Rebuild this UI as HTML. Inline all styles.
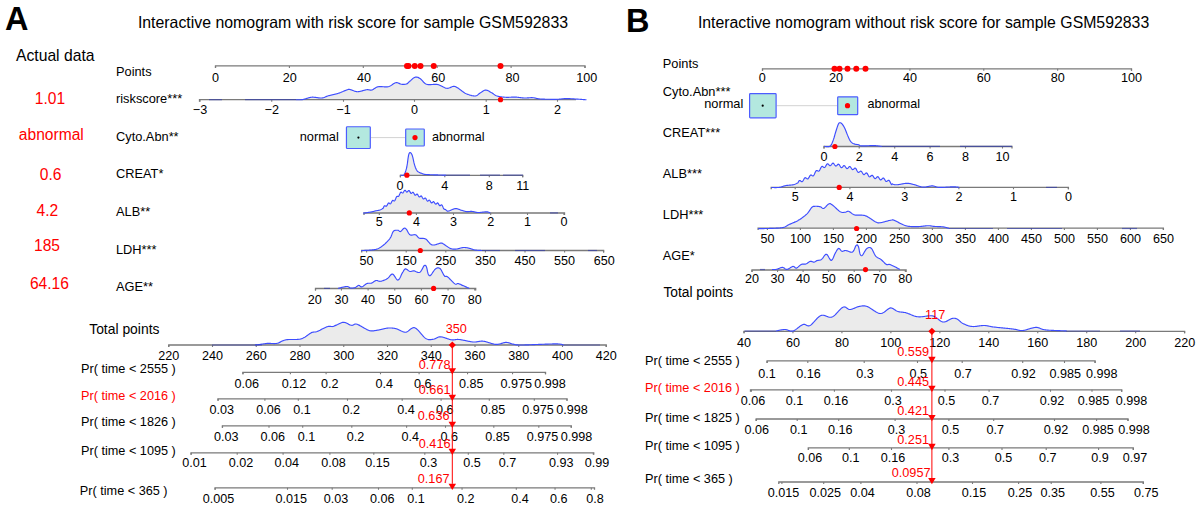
<!DOCTYPE html>
<html><head><meta charset="utf-8"><style>
html,body{margin:0;padding:0;background:#fff;}
svg{display:block;}
text{font-family:"Liberation Sans",sans-serif;}
</style></head><body>
<svg width="1200" height="509" viewBox="0 0 1200 509">
<rect width="1200" height="509" fill="#fff"/>
<path d="M296.00 99.70L296.28 99.70L296.62 99.70L297.01 99.71L297.44 99.72L297.91 99.73L298.42 99.74L298.96 99.74L299.51 99.74L300.09 99.73L300.67 99.72L301.26 99.69L301.85 99.64L302.43 99.58L303.00 99.50L303.47 99.41L303.94 99.31L304.42 99.18L304.90 99.04L305.39 98.88L305.89 98.72L306.40 98.55L306.91 98.37L307.42 98.20L307.94 98.03L308.46 97.87L308.99 97.71L309.53 97.57L310.07 97.45L310.61 97.34L311.15 97.26L311.70 97.20L312.17 97.17L312.66 97.17L313.16 97.18L313.67 97.21L314.19 97.25L314.71 97.31L315.24 97.37L315.77 97.44L316.30 97.52L316.83 97.59L317.36 97.67L317.88 97.75L318.40 97.82L318.91 97.88L319.41 97.94L319.90 97.98L320.37 98.01L320.83 98.03L321.28 98.02L321.70 98.00L322.31 97.93L322.87 97.83L323.39 97.70L323.87 97.55L324.33 97.39L324.78 97.20L325.22 97.01L325.67 96.80L326.13 96.60L326.61 96.39L327.13 96.19L327.69 95.99L328.30 95.80L328.73 95.68L329.17 95.57L329.63 95.45L330.11 95.33L330.60 95.21L331.10 95.10L331.61 94.98L332.13 94.86L332.66 94.74L333.19 94.62L333.72 94.50L334.25 94.37L334.78 94.25L335.31 94.12L335.83 93.99L336.35 93.86L336.85 93.72L337.35 93.58L337.83 93.44L338.30 93.30L338.88 93.11L339.46 92.91L340.05 92.69L340.63 92.47L341.21 92.23L341.79 92.00L342.36 91.76L342.92 91.53L343.46 91.29L343.99 91.07L344.51 90.85L345.00 90.65L345.46 90.46L345.90 90.28L346.32 90.13L346.70 90.00L347.50 89.72L348.02 89.53L348.41 89.41L348.78 89.36L349.27 89.39L350.00 89.50L350.37 89.58L350.78 89.69L351.20 89.83L351.65 90.00L352.13 90.19L352.62 90.39L353.12 90.59L353.64 90.80L354.18 90.99L354.72 91.18L355.27 91.34L355.82 91.49L356.38 91.60L356.94 91.67L357.50 91.70L357.98 91.69L358.47 91.65L358.98 91.58L359.51 91.49L360.05 91.38L360.60 91.26L361.15 91.12L361.70 90.97L362.26 90.82L362.81 90.66L363.35 90.50L363.88 90.35L364.40 90.21L364.91 90.07L365.39 89.95L365.85 89.84L366.29 89.76L366.70 89.70L367.36 89.65L367.94 89.67L368.46 89.73L368.93 89.83L369.36 89.93L369.79 90.03L370.21 90.10L370.66 90.13L371.15 90.11L371.70 90.00L372.15 89.86L372.59 89.66L373.04 89.42L373.50 89.14L373.97 88.84L374.44 88.53L374.93 88.21L375.44 87.89L375.97 87.59L376.51 87.31L377.08 87.06L377.68 86.86L378.30 86.70L378.73 86.63L379.17 86.58L379.64 86.56L380.12 86.55L380.62 86.56L381.13 86.58L381.65 86.62L382.18 86.65L382.71 86.70L383.24 86.74L383.78 86.79L384.32 86.83L384.85 86.86L385.38 86.89L385.90 86.90L386.41 86.90L386.90 86.89L387.39 86.85L387.85 86.79L388.30 86.70L388.88 86.54L389.44 86.32L389.99 86.07L390.52 85.77L391.04 85.46L391.56 85.12L392.06 84.77L392.55 84.43L393.04 84.09L393.51 83.77L393.98 83.47L394.44 83.21L394.90 82.98L395.35 82.81L395.80 82.70L396.40 82.64L396.98 82.68L397.55 82.79L398.10 82.95L398.64 83.16L399.17 83.39L399.69 83.63L400.20 83.86L400.70 84.06L401.20 84.21L401.70 84.30L402.25 84.35L402.80 84.38L403.34 84.38L403.88 84.37L404.41 84.33L404.92 84.28L405.41 84.21L405.87 84.12L406.31 84.02L406.70 83.90L407.31 83.63L407.72 83.30L408.08 82.90L408.53 82.40L409.20 81.80L409.61 81.46L410.06 81.04L410.57 80.58L411.10 80.08L411.66 79.57L412.23 79.06L412.81 78.58L413.39 78.14L413.95 77.76L414.49 77.45L415.00 77.25L415.52 77.12L416.02 77.06L416.51 77.06L416.98 77.11L417.44 77.23L417.92 77.39L418.40 77.61L418.90 77.87L419.43 78.16L420.00 78.50L420.45 78.81L420.90 79.20L421.35 79.64L421.80 80.13L422.27 80.65L422.74 81.19L423.24 81.74L423.75 82.27L424.28 82.78L424.84 83.25L425.43 83.67L426.05 84.02L426.70 84.30L427.13 84.43L427.58 84.52L428.04 84.59L428.52 84.63L429.02 84.66L429.53 84.66L430.06 84.65L430.59 84.62L431.13 84.59L431.67 84.55L432.22 84.50L432.77 84.46L433.32 84.41L433.87 84.37L434.41 84.34L434.95 84.32L435.48 84.32L436.01 84.33L436.52 84.36L437.02 84.42L437.50 84.50L438.05 84.63L438.61 84.80L439.16 84.99L439.70 85.21L440.24 85.45L440.78 85.71L441.31 85.98L441.84 86.25L442.36 86.53L442.88 86.80L443.38 87.07L443.89 87.32L444.38 87.56L444.86 87.77L445.34 87.95L445.80 88.11L446.26 88.22L446.70 88.30L447.30 88.33L447.88 88.29L448.45 88.18L449.00 88.03L449.54 87.83L450.06 87.62L450.56 87.38L451.05 87.15L451.53 86.93L451.99 86.73L452.44 86.57L452.88 86.45L453.30 86.40L453.91 86.39L454.42 86.42L454.87 86.49L455.29 86.62L455.73 86.82L456.22 87.07L456.80 87.40L457.50 87.80L457.90 88.04L458.34 88.33L458.79 88.65L459.27 89.00L459.76 89.37L460.27 89.76L460.80 90.17L461.34 90.58L461.89 91.00L462.44 91.41L463.00 91.81L463.57 92.20L464.13 92.57L464.69 92.91L465.25 93.22L465.80 93.50L466.29 93.73L466.81 93.95L467.33 94.16L467.86 94.37L468.41 94.58L468.96 94.77L469.51 94.95L470.06 95.13L470.61 95.29L471.15 95.43L471.69 95.57L472.21 95.69L472.72 95.79L473.22 95.87L473.70 95.93L474.16 95.98L474.59 96.00L475.00 96.00L475.67 95.93L476.26 95.77L476.79 95.53L477.27 95.23L477.72 94.89L478.15 94.53L478.58 94.15L479.02 93.77L479.49 93.42L480.00 93.10L480.49 92.81L480.99 92.48L481.50 92.13L482.01 91.78L482.53 91.42L483.05 91.08L483.58 90.78L484.10 90.51L484.64 90.30L485.17 90.16L485.70 90.10L486.19 90.12L486.69 90.21L487.19 90.36L487.70 90.56L488.21 90.80L488.72 91.06L489.23 91.35L489.73 91.65L490.24 91.96L490.73 92.26L491.22 92.54L491.70 92.80L492.25 93.11L492.77 93.44L493.26 93.78L493.74 94.14L494.23 94.49L494.73 94.83L495.26 95.16L495.82 95.47L496.43 95.75L497.10 96.00L497.52 96.13L497.97 96.25L498.42 96.36L498.90 96.47L499.39 96.57L499.89 96.66L500.40 96.75L500.92 96.82L501.45 96.90L501.98 96.97L502.52 97.03L503.07 97.09L503.61 97.14L504.16 97.18L504.71 97.23L505.26 97.27L505.80 97.30L506.29 97.32L506.78 97.34L507.29 97.34L507.79 97.34L508.31 97.33L508.82 97.31L509.34 97.29L509.86 97.27L510.39 97.24L510.91 97.21L511.44 97.18L511.96 97.16L512.48 97.13L512.99 97.11L513.51 97.10L514.01 97.09L514.52 97.08L515.01 97.09L515.50 97.10L516.04 97.13L516.57 97.16L517.10 97.21L517.62 97.26L518.14 97.32L518.65 97.38L519.16 97.45L519.67 97.52L520.17 97.59L520.67 97.66L521.18 97.73L521.68 97.79L522.18 97.85L522.68 97.90L523.19 97.94L523.69 97.98L524.20 98.00L524.71 98.01L525.22 98.01L525.74 98.00L526.25 97.98L526.77 97.95L527.28 97.92L527.80 97.88L528.31 97.84L528.82 97.81L529.34 97.77L529.84 97.74L530.35 97.71L530.85 97.69L531.34 97.67L531.83 97.67L532.32 97.68L532.80 97.70L533.32 97.74L533.80 97.80L534.24 97.87L534.67 97.96L535.09 98.05L535.49 98.15L535.91 98.26L536.33 98.37L536.78 98.48L537.26 98.58L537.78 98.68L538.34 98.78L538.96 98.86L539.64 98.94L540.40 99.00L540.79 99.02L541.19 99.05L541.62 99.07L542.07 99.09L542.54 99.11L543.03 99.13L543.53 99.15L544.04 99.17L544.57 99.19L545.11 99.20L545.66 99.22L546.21 99.23L546.78 99.24L547.34 99.25L547.91 99.27L548.49 99.27L549.06 99.28L549.63 99.29L550.20 99.30L550.77 99.30L551.33 99.31L551.88 99.31L552.43 99.32L552.96 99.32L553.49 99.32L554.00 99.32L554.49 99.32L554.97 99.32L555.43 99.31L555.88 99.31L556.30 99.31L556.70 99.30L557.41 99.28L558.06 99.26L558.68 99.22L559.25 99.18L559.79 99.14L560.30 99.09L560.78 99.03L561.25 98.98L561.70 98.92L562.14 98.87L562.57 98.81L563.00 98.76L563.43 98.72L563.88 98.68L564.33 98.64L564.80 98.62L565.30 98.60L565.80 98.59L566.30 98.59L566.78 98.59L567.26 98.59L567.74 98.60L568.21 98.61L568.69 98.62L569.16 98.64L569.65 98.66L570.14 98.68L570.64 98.71L571.16 98.74L571.69 98.77L572.24 98.80L572.80 98.83L573.39 98.87L574.00 98.90L574.44 98.93L574.91 98.95L575.40 98.99L575.92 99.02L576.46 99.06L577.01 99.09L577.58 99.13L578.15 99.17L578.74 99.22L579.33 99.26L579.92 99.30L580.50 99.35L581.08 99.39L581.66 99.43L582.22 99.48L582.76 99.52L583.29 99.56L583.80 99.60L584.28 99.63L584.74 99.67L585.16 99.70L585.56 99.73L585.91 99.76L586.23 99.78L586.50 99.80L586.50 99.70L296.00 99.70Z" fill="#ebebeb"/>
<path d="M400.50 175.10L400.83 175.12L401.29 175.20L401.84 175.29L402.43 175.34L403.03 175.27L403.60 175.05L404.10 174.60L404.71 173.60L405.29 172.25L405.84 170.65L406.34 168.88L406.80 167.00L407.44 163.17L407.98 158.93L408.50 155.60L409.02 153.72L409.53 152.77L410.10 152.50L410.61 152.71L411.17 153.31L411.74 154.29L412.30 155.60L412.82 157.43L413.32 159.74L413.84 162.15L414.40 164.30L414.87 165.80L415.33 167.24L415.83 168.58L416.41 169.78L417.10 170.80L417.55 171.28L418.05 171.69L418.59 172.04L419.16 172.35L419.74 172.63L420.33 172.87L420.91 173.09L421.47 173.30L422.00 173.50L422.50 173.71L422.90 173.88L423.24 174.02L423.60 174.14L424.03 174.24L424.58 174.32L425.32 174.41L426.30 174.50L426.65 174.53L427.04 174.55L427.45 174.58L427.90 174.60L428.37 174.63L428.86 174.65L429.37 174.68L429.91 174.70L430.46 174.72L431.02 174.74L431.59 174.76L432.17 174.78L432.75 174.80L433.34 174.82L433.92 174.83L434.51 174.85L435.09 174.87L435.66 174.88L436.22 174.90L436.76 174.91L437.29 174.93L437.80 174.94L438.30 174.95L438.76 174.96L439.21 174.98L439.62 174.99L440.00 175.00L440.79 175.02L441.52 175.04L442.18 175.06L442.79 175.07L443.35 175.08L443.86 175.08L444.32 175.09L444.73 175.09L445.10 175.09L445.44 175.09L445.73 175.10L446.00 175.10L446.00 175.10L400.50 175.10Z" fill="#ebebeb"/>
<path d="M363.20 213.20L363.50 213.15L363.87 213.10L364.31 213.04L364.79 212.97L365.33 212.89L365.89 212.81L366.48 212.72L367.09 212.63L367.71 212.54L368.32 212.44L368.92 212.35L369.49 212.26L370.04 212.17L370.55 212.08L371.00 212.00L371.61 211.88L372.18 211.76L372.71 211.64L373.20 211.52L373.68 211.41L374.13 211.29L374.59 211.17L375.04 211.05L375.51 210.92L376.00 210.80L376.50 210.69L377.00 210.59L377.50 210.50L378.00 210.42L378.50 210.32L379.00 210.22L379.50 210.09L380.00 209.93L380.50 209.74L381.00 209.50L381.50 209.20L382.00 208.86L382.50 208.47L383.00 208.56L383.50 207.38L384.00 206.32L384.50 205.73L385.00 205.70L385.50 206.02L386.00 206.30L386.50 206.15L387.02 205.45L387.53 204.40L388.05 203.43L388.56 202.95L389.07 203.04L389.57 203.48L390.06 203.84L390.54 203.80L391.00 203.25L391.55 202.12L392.09 201.02L392.62 200.40L393.12 200.37L393.62 200.69L394.09 200.97L394.55 200.89L395.00 200.34L395.56 199.08L396.07 197.75L396.56 196.76L397.04 196.30L397.51 196.28L398.00 196.44L398.49 196.39L398.96 195.85L399.44 194.85L399.93 193.63L400.44 192.55L401.00 192.06L401.45 192.20L401.93 192.61L402.43 192.96L402.94 192.88L403.46 192.24L403.98 191.28L404.49 190.48L405.00 190.22L405.50 190.55L406.00 191.24L406.50 191.89L407.00 192.12L407.50 191.82L408.00 191.19L408.50 190.63L409.00 190.50L409.50 190.96L410.00 191.85L410.50 192.76L411.00 193.31L411.50 193.31L412.00 192.90L412.50 192.43L413.00 192.31L413.50 192.72L414.00 193.58L414.50 194.52L415.00 195.13L415.50 195.20L416.00 194.80L416.50 194.27L417.00 194.04L417.49 194.33L417.98 195.09L418.46 196.02L418.94 196.75L419.43 197.02L419.93 196.77L420.45 196.24L421.00 195.89L421.46 196.06L421.94 196.73L422.43 197.69L422.93 198.57L423.44 198.99L423.95 198.84L424.47 198.35L424.98 197.96L425.50 198.06L426.00 198.72L426.49 199.69L426.97 200.57L427.44 201.06L427.90 201.06L428.38 200.68L428.86 200.24L429.35 200.09L429.87 200.50L430.42 201.44L431.00 202.49L431.44 202.96L431.92 202.95L432.41 202.50L432.92 201.90L433.45 201.61L433.99 201.94L434.52 202.79L435.06 203.70L435.60 204.20L436.12 204.09L436.62 203.56L437.11 203.03L437.57 202.85L438.00 203.12L438.62 204.13L439.18 205.17L439.71 205.73L440.21 205.71L440.69 205.32L441.16 204.92L441.62 204.82L442.10 205.25L442.60 206.20L443.09 207.39L443.55 208.43L444.00 209.10L444.45 209.37L444.91 209.35L445.40 209.48L445.94 209.92L446.53 210.62L447.20 211.10L447.62 211.13L448.07 211.10L448.55 211.01L449.06 210.88L449.59 210.71L450.13 210.51L450.68 210.28L451.24 210.04L451.81 209.80L452.36 209.56L452.92 209.32L453.46 209.11L453.98 208.92L454.48 208.77L454.96 208.66L455.40 208.60L456.00 208.59L456.56 208.63L457.09 208.72L457.60 208.85L458.08 209.01L458.55 209.19L459.01 209.39L459.47 209.58L459.94 209.77L460.41 209.95L460.90 210.10L461.40 210.24L461.90 210.40L462.40 210.56L462.90 210.72L463.40 210.88L463.90 211.03L464.40 211.18L464.90 211.31L465.40 211.43L465.90 211.53L466.40 211.60L466.90 211.64L467.39 211.65L467.88 211.63L468.36 211.60L468.85 211.55L469.34 211.50L469.83 211.45L470.34 211.41L470.85 211.38L471.37 211.38L471.90 211.40L472.40 211.45L472.89 211.53L473.39 211.63L473.90 211.74L474.41 211.86L474.93 211.98L475.45 212.10L475.99 212.22L476.55 212.32L477.11 212.41L477.70 212.47L478.30 212.50L478.77 212.50L479.28 212.49L479.80 212.45L480.35 212.41L480.91 212.35L481.48 212.29L482.05 212.22L482.62 212.15L483.18 212.08L483.74 212.01L484.28 211.95L484.80 211.89L485.30 211.85L485.77 211.81L486.20 211.80L486.60 211.80L487.40 211.87L488.10 212.02L488.70 212.20L489.21 212.41L489.65 212.61L490.01 212.78L490.30 212.90L490.30 212.90L363.20 212.90Z" fill="#ebebeb"/>
<path d="M361.40 250.60L361.68 250.58L362.00 250.56L362.36 250.54L362.76 250.52L363.20 250.50L363.66 250.48L364.16 250.46L364.68 250.43L365.22 250.41L365.78 250.38L366.35 250.35L366.94 250.32L367.54 250.29L368.15 250.26L368.76 250.22L369.36 250.18L369.97 250.14L370.57 250.09L371.16 250.04L371.74 249.99L372.31 249.93L372.85 249.87L373.38 249.81L373.88 249.74L374.35 249.66L374.79 249.58L375.20 249.50L375.92 249.33L376.58 249.15L377.19 248.96L377.76 248.76L378.28 248.55L378.78 248.33L379.25 248.09L379.71 247.84L380.15 247.57L380.60 247.28L381.05 246.97L381.51 246.64L381.99 246.28L382.50 245.90L383.03 245.49L383.59 245.04L384.15 244.56L384.72 244.06L385.29 243.53L385.86 242.99L386.43 242.43L386.99 241.86L387.53 241.29L388.06 240.72L388.56 240.15L389.04 239.59L389.49 239.03L389.90 238.50L390.60 237.40L391.18 236.22L391.66 235.03L392.09 233.88L392.51 232.82L392.97 231.91L393.50 231.20L393.98 230.81L394.50 230.53L395.04 230.34L395.60 230.24L396.16 230.20L396.70 230.20L397.21 230.23L397.68 230.27L398.10 230.30L398.80 230.58L399.31 231.11L399.78 231.55L400.40 231.60L400.87 231.32L401.40 230.84L401.96 230.24L402.54 229.59L403.10 228.98L403.63 228.49L404.10 228.20L404.74 228.06L405.26 228.19L405.77 228.61L406.40 229.30L406.83 229.90L407.28 230.71L407.75 231.64L408.25 232.60L408.79 233.50L409.37 234.26L410.00 234.80L410.44 234.99L410.92 235.09L411.44 235.11L411.97 235.07L412.52 234.99L413.08 234.89L413.63 234.79L414.16 234.71L414.68 234.67L415.16 234.70L415.60 234.80L416.19 235.12L416.69 235.57L417.14 236.11L417.57 236.68L418.03 237.24L418.56 237.73L419.20 238.10L419.63 238.24L420.10 238.33L420.60 238.38L421.12 238.39L421.66 238.39L422.22 238.39L422.78 238.39L423.36 238.42L423.93 238.48L424.50 238.59L425.05 238.76L425.60 239.00L426.09 239.31L426.57 239.71L427.05 240.18L427.52 240.70L427.99 241.26L428.47 241.83L428.95 242.41L429.44 242.96L429.93 243.49L430.45 243.96L430.98 244.37L431.53 244.68L432.10 244.90L432.56 244.99L433.06 245.03L433.59 245.01L434.13 244.95L434.69 244.86L435.27 244.73L435.84 244.58L436.42 244.41L437.00 244.23L437.56 244.05L438.11 243.86L438.64 243.68L439.15 243.51L439.62 243.37L440.06 243.24L440.45 243.15L440.80 243.10L441.71 243.01L442.04 243.05L442.32 243.29L443.10 243.80L443.47 244.02L443.90 244.29L444.37 244.60L444.87 244.94L445.41 245.31L445.97 245.70L446.55 246.10L447.13 246.50L447.72 246.89L448.30 247.26L448.86 247.60L449.41 247.91L449.92 248.18L450.40 248.40L450.96 248.62L451.48 248.80L451.96 248.93L452.43 249.04L452.89 249.11L453.34 249.16L453.80 249.18L454.28 249.18L454.78 249.17L455.32 249.14L455.90 249.10L456.36 249.05L456.85 248.98L457.35 248.89L457.88 248.77L458.42 248.64L458.97 248.50L459.53 248.35L460.09 248.21L460.65 248.06L461.20 247.93L461.75 247.80L462.29 247.69L462.81 247.60L463.32 247.54L463.80 247.50L464.38 247.49L464.95 247.51L465.50 247.56L466.04 247.62L466.56 247.71L467.08 247.81L467.59 247.92L468.09 248.03L468.57 248.15L469.06 248.27L469.53 248.39L470.00 248.50L470.54 248.63L471.04 248.78L471.53 248.94L471.99 249.11L472.45 249.28L472.91 249.45L473.39 249.61L473.89 249.76L474.42 249.89L475.00 250.00L475.45 250.07L475.96 250.13L476.49 250.18L477.06 250.23L477.64 250.27L478.23 250.31L478.81 250.34L479.38 250.37L479.93 250.40L480.45 250.42L480.93 250.44L481.35 250.46L481.71 250.48L482.00 250.50L482.00 250.50L361.40 250.50Z" fill="#ebebeb"/>
<path d="M338.00 288.40L338.30 288.33L338.66 288.24L339.09 288.13L339.57 288.01L340.10 287.88L340.66 287.73L341.25 287.58L341.86 287.43L342.48 287.28L343.10 287.13L343.72 287.00L344.32 286.87L344.89 286.75L345.44 286.66L345.94 286.58L346.40 286.53L346.80 286.50L347.59 286.55L348.21 286.74L348.70 287.00L349.13 287.31L349.53 287.61L349.97 287.86L350.50 288.00L350.97 288.05L351.46 288.07L351.97 288.07L352.48 288.05L353.00 288.01L353.52 287.94L354.03 287.85L354.53 287.73L355.00 287.60L355.59 287.35L356.16 286.99L356.72 286.59L357.26 286.18L357.79 285.81L358.31 285.54L358.80 285.40L359.32 285.49L359.78 285.81L360.21 286.22L360.67 286.63L361.18 286.89L361.80 286.90L362.23 286.74L362.71 286.49L363.22 286.15L363.76 285.75L364.31 285.32L364.86 284.88L365.42 284.45L365.97 284.07L366.50 283.74L367.00 283.50L367.53 283.34L368.05 283.25L368.55 283.23L369.05 283.24L369.54 283.26L370.03 283.29L370.51 283.28L371.00 283.22L371.50 283.10L372.00 282.89L372.50 282.60L373.00 282.27L373.50 281.91L374.00 281.54L374.50 281.20L375.00 280.89L375.50 280.65L376.00 280.50L376.49 280.46L376.96 280.52L377.41 280.64L377.87 280.81L378.34 281.00L378.83 281.17L379.35 281.29L379.90 281.35L380.50 281.30L380.95 281.21L381.44 281.10L381.94 280.95L382.48 280.79L383.02 280.60L383.58 280.39L384.14 280.17L384.70 279.93L385.25 279.68L385.79 279.42L386.32 279.15L386.82 278.88L387.30 278.60L387.88 278.18L388.44 277.65L388.97 277.05L389.48 276.43L389.98 275.81L390.48 275.23L390.97 274.73L391.47 274.36L391.98 274.13L392.50 274.10L392.99 274.30L393.50 274.73L394.01 275.34L394.52 276.08L395.04 276.88L395.55 277.69L396.06 278.47L396.56 279.15L397.06 279.69L397.54 280.02L398.00 280.10L398.55 279.84L399.10 279.27L399.63 278.46L400.15 277.48L400.66 276.41L401.15 275.32L401.62 274.27L402.07 273.34L402.50 272.60L403.07 271.69L403.56 270.85L404.00 270.12L404.44 269.53L404.93 269.11L405.50 268.90L405.94 268.93L406.41 269.12L406.91 269.42L407.44 269.80L407.97 270.23L408.50 270.64L409.02 271.02L409.52 271.32L410.00 271.50L410.56 271.55L411.07 271.48L411.56 271.32L412.05 271.12L412.57 270.94L413.15 270.81L413.80 270.80L414.23 270.87L414.69 271.02L415.18 271.21L415.69 271.44L416.22 271.69L416.76 271.93L417.29 272.15L417.83 272.33L418.35 272.46L418.86 272.50L419.35 272.46L419.80 272.30L420.38 271.86L420.94 271.19L421.50 270.34L422.03 269.39L422.54 268.41L423.03 267.46L423.48 266.61L423.91 265.94L424.30 265.50L425.03 265.18L425.59 265.42L426.05 266.09L426.50 267.00L427.02 268.93L427.47 271.40L428.00 273.40L428.45 274.45L428.92 275.32L429.50 275.77L430.30 275.60L430.71 275.26L431.17 274.73L431.67 274.05L432.20 273.26L432.76 272.41L433.33 271.55L433.90 270.73L434.46 269.98L435.00 269.35L435.50 268.90L436.03 268.54L436.55 268.24L437.05 268.01L437.55 267.86L438.04 267.79L438.53 267.81L439.01 267.94L439.50 268.16L440.00 268.50L440.51 269.02L441.03 269.76L441.56 270.66L442.08 271.66L442.60 272.69L443.11 273.70L443.60 274.63L444.07 275.42L444.50 276.00L445.03 276.45L445.44 276.53L445.81 276.43L446.22 276.31L446.76 276.38L447.50 276.80L447.88 277.11L448.31 277.49L448.78 277.94L449.29 278.44L449.83 278.98L450.39 279.55L450.96 280.13L451.54 280.72L452.11 281.30L452.67 281.86L453.21 282.38L453.72 282.86L454.19 283.28L454.62 283.63L455.00 283.90L455.74 284.24L456.28 284.24L456.69 284.02L457.06 283.74L457.47 283.52L458.00 283.50L458.42 283.60L458.86 283.75L459.30 283.92L459.77 284.13L460.26 284.35L460.77 284.60L461.32 284.86L461.89 285.13L462.50 285.40L462.97 285.60L463.49 285.83L464.05 286.08L464.65 286.34L465.26 286.61L465.87 286.88L466.48 287.15L467.08 287.41L467.63 287.66L468.15 287.89L468.61 288.09L468.99 288.26L469.30 288.40L469.30 288.40L338.00 288.40Z" fill="#ebebeb"/>
<path d="M255.00 345.00L255.30 344.97L255.67 344.92L256.11 344.88L256.60 344.82L257.14 344.76L257.72 344.70L258.32 344.63L258.94 344.56L259.57 344.48L260.20 344.40L260.65 344.34L261.12 344.27L261.59 344.19L262.08 344.11L262.57 344.03L263.08 343.95L263.60 343.86L264.13 343.78L264.67 343.70L265.21 343.62L265.77 343.56L266.34 343.49L266.92 343.44L267.50 343.40L267.97 343.38L268.45 343.37L268.96 343.37L269.47 343.38L270.00 343.40L270.53 343.43L271.07 343.45L271.61 343.48L272.16 343.51L272.70 343.53L273.24 343.55L273.77 343.56L274.29 343.57L274.81 343.56L275.31 343.54L275.79 343.51L276.26 343.47L276.70 343.40L277.34 343.26L277.95 343.09L278.54 342.88L279.11 342.64L279.66 342.39L280.19 342.12L280.70 341.85L281.20 341.58L281.69 341.33L282.17 341.09L282.64 340.88L283.10 340.70L283.66 340.50L284.12 340.33L284.53 340.19L284.92 340.06L285.32 339.95L285.76 339.85L286.28 339.76L286.92 339.68L287.70 339.60L288.07 339.57L288.48 339.55L288.92 339.53L289.38 339.52L289.88 339.51L290.39 339.50L290.92 339.50L291.46 339.50L292.01 339.49L292.58 339.49L293.14 339.49L293.71 339.49L294.28 339.49L294.84 339.49L295.39 339.48L295.92 339.47L296.45 339.45L296.95 339.44L297.43 339.41L297.88 339.38L298.31 339.34L298.70 339.30L299.40 339.20L300.01 339.11L300.55 339.00L301.03 338.89L301.46 338.76L301.88 338.61L302.29 338.45L302.71 338.26L303.16 338.04L303.65 337.79L304.20 337.50L304.67 337.24L305.17 336.93L305.69 336.59L306.23 336.22L306.78 335.82L307.34 335.42L307.90 335.01L308.46 334.60L309.02 334.20L309.57 333.81L310.11 333.45L310.63 333.13L311.13 332.84L311.60 332.60L312.15 332.37L312.65 332.22L313.11 332.13L313.55 332.08L313.97 332.05L314.40 332.04L314.84 332.01L315.32 331.96L315.85 331.87L316.43 331.72L317.10 331.50L317.51 331.34L317.94 331.15L318.41 330.94L318.90 330.70L319.41 330.45L319.94 330.19L320.48 329.91L321.03 329.63L321.59 329.34L322.15 329.04L322.71 328.75L323.27 328.47L323.82 328.19L324.36 327.92L324.89 327.66L325.40 327.42L325.89 327.21L326.36 327.01L326.79 326.84L327.20 326.70L327.88 326.51L328.51 326.40L329.08 326.35L329.62 326.34L330.12 326.37L330.59 326.41L331.03 326.47L331.46 326.52L331.88 326.55L332.29 326.55L332.70 326.50L333.28 326.38L333.76 326.23L334.18 326.06L334.59 325.86L335.05 325.64L335.60 325.38L336.30 325.10L336.71 324.93L337.16 324.72L337.63 324.49L338.13 324.23L338.65 323.97L339.19 323.69L339.74 323.43L340.31 323.17L340.88 322.93L341.45 322.72L342.03 322.54L342.59 322.41L343.15 322.32L343.70 322.30L344.21 322.34L344.73 322.44L345.26 322.59L345.79 322.79L346.33 323.02L346.86 323.28L347.40 323.55L347.94 323.84L348.46 324.12L348.99 324.39L349.50 324.64L350.00 324.87L350.48 325.06L350.95 325.21L351.40 325.30L351.96 325.33L352.45 325.25L352.88 325.10L353.29 324.89L353.68 324.67L354.08 324.44L354.51 324.24L354.99 324.08L355.53 324.01L356.16 324.04L356.90 324.20L357.28 324.32L357.69 324.48L358.12 324.67L358.58 324.88L359.06 325.12L359.55 325.38L360.07 325.66L360.59 325.96L361.13 326.26L361.68 326.58L362.23 326.90L362.79 327.23L363.35 327.56L363.90 327.89L364.46 328.21L365.01 328.52L365.55 328.83L366.08 329.11L366.60 329.39L367.10 329.64L367.58 329.87L368.04 330.08L368.48 330.25L368.90 330.40L369.56 330.60L370.17 330.74L370.72 330.85L371.25 330.91L371.74 330.94L372.21 330.94L372.67 330.92L373.12 330.87L373.58 330.81L374.05 330.73L374.54 330.65L375.05 330.56L375.60 330.48L376.20 330.40L376.65 330.34L377.12 330.27L377.62 330.18L378.13 330.09L378.66 329.98L379.20 329.87L379.75 329.75L380.30 329.62L380.86 329.50L381.42 329.37L381.97 329.24L382.52 329.11L383.06 328.99L383.59 328.86L384.10 328.75L384.59 328.64L385.06 328.54L385.50 328.45L385.92 328.37L386.30 328.30L387.05 328.18L387.67 328.09L388.21 328.03L388.67 327.98L389.10 327.96L389.50 327.95L389.92 327.96L390.38 327.98L390.90 328.00L391.35 328.02L391.80 328.04L392.24 328.07L392.68 328.10L393.13 328.14L393.60 328.20L394.09 328.27L394.61 328.36L395.16 328.48L395.76 328.63L396.40 328.80L396.82 328.94L397.26 329.11L397.72 329.31L398.20 329.53L398.69 329.77L399.20 330.03L399.71 330.29L400.24 330.56L400.77 330.82L401.31 331.08L401.86 331.32L402.40 331.55L402.95 331.75L403.49 331.92L404.03 332.05L404.56 332.15L405.09 332.20L405.60 332.20L406.11 332.13L406.61 331.97L407.10 331.74L407.59 331.46L408.08 331.12L408.57 330.76L409.06 330.36L409.55 329.96L410.04 329.55L410.53 329.15L411.03 328.78L411.53 328.44L412.04 328.15L412.55 327.92L413.07 327.76L413.61 327.67L414.15 327.68L414.70 327.80L415.16 327.98L415.64 328.24L416.13 328.56L416.63 328.95L417.14 329.38L417.66 329.87L418.18 330.40L418.71 330.96L419.24 331.54L419.77 332.15L420.31 332.77L420.84 333.39L421.36 334.01L421.89 334.63L422.40 335.23L422.91 335.80L423.41 336.35L423.89 336.86L424.37 337.33L424.83 337.74L425.27 338.10L425.70 338.40L426.34 338.77L426.95 339.07L427.53 339.30L428.08 339.46L428.61 339.58L429.13 339.64L429.63 339.67L430.12 339.66L430.61 339.63L431.10 339.57L431.59 339.51L432.08 339.43L432.58 339.36L433.10 339.30L433.62 339.21L434.12 339.07L434.60 338.89L435.09 338.67L435.56 338.43L436.04 338.18L436.53 337.92L437.02 337.67L437.52 337.43L438.05 337.21L438.59 337.03L439.16 336.90L439.76 336.82L440.40 336.80L440.83 336.83L441.27 336.88L441.74 336.96L442.22 337.06L442.71 337.17L443.22 337.31L443.74 337.46L444.26 337.62L444.79 337.80L445.33 337.98L445.87 338.16L446.41 338.35L446.95 338.54L447.48 338.72L448.01 338.90L448.53 339.07L449.04 339.23L449.54 339.38L450.03 339.51L450.51 339.63L450.96 339.73L451.40 339.80L452.00 339.87L452.55 339.90L453.06 339.91L453.55 339.88L454.00 339.84L454.45 339.78L454.89 339.72L455.33 339.65L455.78 339.58L456.25 339.51L456.75 339.47L457.29 339.43L457.87 339.43L458.50 339.45L459.20 339.50L459.60 339.54L460.02 339.60L460.46 339.67L460.92 339.74L461.39 339.82L461.88 339.91L462.38 340.01L462.89 340.11L463.41 340.21L463.94 340.32L464.48 340.43L465.02 340.55L465.57 340.66L466.12 340.78L466.67 340.90L467.22 341.01L467.77 341.13L468.32 341.24L468.86 341.34L469.39 341.44L469.92 341.54L470.44 341.63L470.95 341.72L471.45 341.79L471.94 341.86L472.41 341.92L472.86 341.96L473.30 342.00L473.92 342.03L474.50 342.04L475.07 342.02L475.61 341.98L476.13 341.92L476.64 341.85L477.13 341.78L477.62 341.69L478.09 341.60L478.57 341.51L479.04 341.42L479.52 341.34L480.00 341.27L480.49 341.21L481.00 341.16L481.52 341.14L482.06 341.13L482.62 341.15L483.20 341.20L483.66 341.26L484.13 341.34L484.62 341.43L485.12 341.54L485.62 341.67L486.13 341.80L486.66 341.95L487.18 342.11L487.71 342.27L488.25 342.44L488.79 342.61L489.33 342.79L489.87 342.96L490.41 343.13L490.95 343.30L491.49 343.47L492.02 343.62L492.54 343.77L493.07 343.90L493.58 344.03L494.08 344.14L494.58 344.23L495.07 344.31L495.54 344.36L496.00 344.40L496.59 344.41L497.18 344.39L497.75 344.34L498.32 344.26L498.88 344.15L499.44 344.03L499.98 343.89L500.52 343.73L501.05 343.58L501.57 343.41L502.08 343.25L502.58 343.09L503.08 342.94L503.57 342.79L504.05 342.67L504.52 342.56L504.99 342.48L505.45 342.42L505.90 342.40L506.49 342.41L507.05 342.46L507.58 342.53L508.09 342.64L508.58 342.77L509.07 342.91L509.54 343.07L510.01 343.23L510.48 343.40L510.95 343.56L511.44 343.72L511.94 343.87L512.46 343.99L513.00 344.10L513.42 344.18L513.78 344.25L514.09 344.33L514.36 344.41L514.62 344.48L514.87 344.56L515.13 344.63L515.41 344.69L515.74 344.76L516.11 344.81L516.56 344.86L517.09 344.91L517.72 344.94L518.46 344.97L519.32 344.99L520.33 345.00L521.50 345.00L521.82 345.00L522.16 344.99L522.51 344.99L522.88 344.98L523.26 344.98L523.66 344.97L524.07 344.96L524.49 344.95L524.92 344.94L525.37 344.92L525.83 344.91L526.30 344.90L526.78 344.88L527.27 344.86L527.78 344.85L528.29 344.83L528.80 344.81L529.33 344.79L529.87 344.77L530.41 344.75L530.96 344.73L531.52 344.71L532.08 344.69L532.64 344.67L533.22 344.64L533.79 344.62L534.37 344.60L534.96 344.57L535.54 344.55L536.13 344.53L536.72 344.50L537.31 344.48L537.91 344.46L538.50 344.43L539.09 344.41L539.69 344.38L540.28 344.36L540.87 344.34L541.46 344.31L542.04 344.29L542.63 344.27L543.21 344.24L543.78 344.22L544.36 344.20L544.92 344.18L545.48 344.16L546.04 344.14L546.59 344.12L547.13 344.10L547.67 344.08L548.20 344.06L548.71 344.04L549.22 344.03L549.73 344.01L550.22 344.00L550.70 343.98L551.17 343.97L551.63 343.96L552.08 343.95L552.51 343.94L552.93 343.93L553.34 343.92L553.74 343.91L554.12 343.91L554.49 343.90L554.84 343.90L555.18 343.90L555.50 343.90L556.68 343.91L557.72 343.94L558.63 343.99L559.43 344.05L560.13 344.12L560.73 344.20L561.24 344.29L561.68 344.38L562.06 344.48L562.38 344.58L562.66 344.67L562.90 344.76L563.12 344.85L563.34 344.93L563.54 345.00L563.76 345.06L564.00 345.10L564.00 345.00L255.00 345.00Z" fill="#ebebeb"/>
<path d="M824.40 146.40L824.71 146.41L825.11 146.45L825.59 146.50L826.13 146.56L826.71 146.62L827.31 146.65L827.92 146.66L828.51 146.64L829.06 146.56L829.57 146.41L830.00 146.20L830.65 145.65L831.19 144.95L831.66 144.10L832.10 143.12L832.53 142.01L833.00 140.80L833.51 139.39L834.03 137.75L834.54 135.99L835.05 134.21L835.54 132.51L836.00 131.00L836.64 128.96L837.24 127.07L837.80 125.45L838.30 124.20L838.83 123.24L839.28 122.89L839.80 122.80L840.28 122.79L840.81 122.90L841.38 123.21L842.00 123.80L842.45 124.37L842.94 125.08L843.45 125.89L843.97 126.80L844.49 127.78L845.00 128.80L845.50 129.93L846.00 131.19L846.50 132.51L847.00 133.85L847.50 135.13L848.00 136.30L848.49 137.38L848.97 138.43L849.45 139.43L849.94 140.36L850.45 141.19L851.00 141.90L851.50 142.41L852.03 142.82L852.58 143.16L853.14 143.45L853.70 143.69L854.26 143.90L854.80 144.10L855.34 144.26L855.88 144.37L856.43 144.44L856.97 144.48L857.50 144.53L858.01 144.60L858.50 144.70L858.93 144.88L859.19 145.11L859.43 145.36L859.80 145.59L860.44 145.78L861.50 145.90L861.84 145.91L862.21 145.92L862.61 145.93L863.05 145.92L863.52 145.92L864.01 145.91L864.52 145.89L865.06 145.88L865.61 145.86L866.17 145.84L866.74 145.81L867.33 145.79L867.91 145.76L868.50 145.74L869.09 145.71L869.68 145.69L870.25 145.67L870.82 145.65L871.38 145.63L871.92 145.61L872.45 145.60L872.95 145.59L873.43 145.59L873.88 145.59L874.30 145.60L874.97 145.62L875.62 145.66L876.26 145.70L876.88 145.76L877.47 145.81L878.04 145.88L878.59 145.95L879.11 146.02L879.59 146.08L880.05 146.15L880.48 146.22L880.86 146.27L881.22 146.32L881.53 146.37L881.80 146.40L881.80 146.40L824.40 146.40Z" fill="#ebebeb"/>
<path d="M771.25 187.50L771.55 187.50L771.92 187.50L772.35 187.51L772.84 187.52L773.36 187.54L773.92 187.55L774.51 187.56L775.12 187.57L775.74 187.57L776.36 187.56L776.97 187.55L777.57 187.53L778.15 187.50L778.69 187.46L779.20 187.40L779.75 187.32L780.27 187.21L780.78 187.09L781.27 186.95L781.75 186.80L782.23 186.64L782.71 186.48L783.19 186.32L783.68 186.16L784.18 186.00L784.70 185.86L785.24 185.72L785.80 185.60L786.28 185.52L786.78 185.44L787.30 185.38L787.83 185.32L788.38 185.27L788.93 185.22L789.49 185.17L790.05 185.12L790.61 185.08L791.16 185.02L791.71 184.96L792.24 184.89L792.76 184.81L793.26 184.72L793.74 184.62L794.20 184.50L794.82 184.30L795.41 184.07L795.96 183.82L796.49 183.55L797.00 183.26L797.50 182.97L797.99 182.67L798.47 181.71L798.97 180.92L799.47 180.48L800.00 180.48L800.49 180.81L800.99 181.27L801.49 181.65L801.99 181.76L802.49 181.48L802.99 180.82L803.49 179.91L803.99 178.95L804.50 178.15L805.00 177.70L805.50 177.65L806.00 177.94L806.50 178.40L807.00 178.83L807.50 179.02L808.00 178.84L808.50 178.27L809.00 177.41L809.50 176.46L810.00 175.63L810.50 175.10L811.00 174.94L811.50 175.13L812.00 175.50L812.50 175.84L813.00 175.94L813.50 175.66L814.00 174.96L814.50 173.94L815.00 172.77L815.50 171.69L816.00 170.90L816.50 170.50L817.00 170.49L817.50 170.74L818.00 171.06L818.50 171.23L819.00 171.05L819.50 170.48L820.00 169.58L820.50 168.52L821.00 167.50L821.50 166.75L822.00 166.38L822.50 166.42L823.00 166.75L823.50 167.19L824.00 167.52L824.50 167.55L825.00 167.20L825.50 166.50L826.00 165.60L826.50 164.72L827.00 164.06L827.50 163.78L828.00 163.91L828.50 164.36L829.00 164.97L829.50 165.50L830.00 165.77L830.50 165.67L831.00 165.21L831.50 164.53L832.00 163.81L832.50 163.29L833.00 163.12L833.50 163.36L834.00 163.95L834.50 164.72L835.00 165.45L835.50 165.95L836.00 166.07L836.50 165.81L837.00 165.30L837.50 164.71L838.00 164.27L838.50 164.15L839.00 164.43L839.50 165.08L840.00 165.93L840.50 166.78L841.00 167.41L841.50 167.67L842.00 167.52L842.50 167.04L843.00 166.41L843.50 165.87L844.00 165.61L844.50 165.72L845.00 166.21L845.50 166.95L846.00 167.73L846.50 168.35L847.00 168.62L847.50 168.51L848.00 168.06L848.50 167.45L849.00 166.87L849.50 166.53L850.00 166.57L850.50 167.00L851.00 167.72L851.50 168.54L852.00 169.23L852.50 169.63L853.00 169.64L853.50 169.32L854.00 168.80L854.50 168.31L855.00 168.07L855.50 168.20L856.00 168.75L856.50 169.63L857.00 170.65L857.50 171.57L858.00 172.22L858.50 172.47L859.00 172.32L859.50 171.91L860.00 171.44L860.50 171.11L861.00 171.10L861.50 171.47L862.00 172.17L862.50 173.04L863.00 173.85L863.50 174.42L864.00 174.61L864.50 174.41L865.00 173.94L865.50 173.39L866.00 172.98L866.49 172.90L866.98 173.21L867.45 173.85L867.93 174.71L868.40 175.59L868.88 176.33L869.36 176.77L869.85 176.82L870.36 176.52L870.88 175.98L871.43 175.46L872.00 175.23L872.45 175.39L872.91 175.87L873.39 176.60L873.88 177.44L874.39 178.17L874.90 178.58L875.42 178.57L875.94 178.18L876.46 177.56L876.99 176.98L877.51 176.66L878.02 176.75L878.53 177.25L879.03 178.01L879.52 178.84L880.00 179.52L880.53 179.93L881.04 179.91L881.55 179.52L882.04 178.94L882.53 178.39L883.02 178.06L883.50 178.07L883.98 178.46L884.47 179.15L884.96 179.99L885.45 180.79L885.96 181.35L886.47 181.53L887.00 181.31L887.47 180.91L887.93 180.49L888.39 180.23L888.84 180.25L889.30 180.61L889.76 181.31L890.23 182.24L890.71 183.25L891.19 184.14L891.69 184.72L892.19 183.73L892.72 183.99L893.26 184.23L893.82 184.43L894.40 184.59L895.00 184.70L895.44 184.75L895.90 184.77L896.38 184.77L896.87 184.76L897.38 184.72L897.91 184.67L898.44 184.60L898.98 184.52L899.53 184.44L900.08 184.34L900.64 184.24L901.19 184.13L901.74 184.03L902.29 183.92L902.83 183.82L903.37 183.72L903.89 183.62L904.40 183.53L904.90 183.46L905.38 183.40L905.84 183.35L906.28 183.31L906.70 183.30L907.34 183.30L907.93 183.32L908.47 183.36L908.98 183.41L909.45 183.48L909.91 183.56L910.35 183.65L910.79 183.75L911.22 183.86L911.67 183.98L912.13 184.10L912.62 184.23L913.14 184.37L913.70 184.50L914.16 184.62L914.63 184.75L915.12 184.90L915.61 185.06L916.12 185.23L916.63 185.40L917.15 185.59L917.68 185.77L918.21 185.95L918.74 186.13L919.28 186.30L919.81 186.46L920.35 186.61L920.89 186.75L921.42 186.87L921.95 186.97L922.48 187.05L923.00 187.10L923.52 187.12L924.05 187.12L924.58 187.09L925.11 187.04L925.65 186.97L926.19 186.88L926.72 186.78L927.26 186.68L927.79 186.57L928.32 186.46L928.85 186.35L929.37 186.24L929.88 186.14L930.39 186.06L930.88 185.99L931.37 185.94L931.84 185.91L932.30 185.90L932.85 185.93L933.36 185.99L933.83 186.08L934.26 186.19L934.68 186.32L935.09 186.46L935.51 186.61L935.93 186.76L936.38 186.91L936.86 187.05L937.38 187.17L937.95 187.27L938.59 187.35L939.30 187.40L939.69 187.41L940.10 187.42L940.54 187.42L941.00 187.41L941.48 187.40L941.98 187.39L942.50 187.37L943.03 187.35L943.57 187.32L944.12 187.29L944.67 187.26L945.24 187.23L945.80 187.19L946.37 187.16L946.94 187.12L947.50 187.08L948.06 187.05L948.61 187.01L949.15 186.98L949.69 186.95L950.21 186.91L950.71 186.89L951.20 186.86L951.66 186.84L952.11 186.82L952.53 186.81L952.93 186.80L953.30 186.80L954.16 186.81L954.95 186.84L955.65 186.89L956.29 186.96L956.86 187.03L957.37 187.10L957.83 187.18L958.24 187.25L958.60 187.31L958.92 187.36L959.20 187.40L959.20 187.40L771.25 187.40Z" fill="#ebebeb"/>
<path d="M758.25 228.70L758.52 228.69L758.82 228.68L759.15 228.67L759.50 228.66L759.88 228.65L760.28 228.64L760.70 228.63L761.15 228.62L761.62 228.61L762.10 228.60L762.61 228.59L763.13 228.58L763.66 228.57L764.21 228.56L764.77 228.55L765.34 228.54L765.93 228.52L766.52 228.51L767.12 228.50L767.72 228.48L768.33 228.47L768.95 228.45L769.56 228.44L770.18 228.42L770.80 228.40L771.42 228.38L772.03 228.36L772.64 228.34L773.25 228.32L773.84 228.30L774.44 228.27L775.02 228.25L775.59 228.22L776.15 228.19L776.70 228.17L777.23 228.14L777.75 228.10L778.25 228.07L778.74 228.04L779.20 228.00L779.65 227.96L780.07 227.93L780.47 227.89L780.85 227.84L781.20 227.80L782.14 227.66L782.95 227.51L783.65 227.34L784.24 227.17L784.75 226.99L785.19 226.79L785.58 226.59L785.93 226.37L786.26 226.15L786.59 225.93L786.92 225.69L787.29 225.45L787.69 225.21L788.16 224.95L788.70 224.70L789.15 224.51L789.61 224.31L790.08 224.11L790.57 223.90L791.06 223.70L791.57 223.48L792.08 223.27L792.60 223.05L793.12 222.83L793.65 222.60L794.18 222.37L794.70 222.13L795.23 221.90L795.75 221.65L796.26 221.40L796.77 221.15L797.27 220.90L797.76 220.64L798.24 220.37L798.70 220.10L799.27 219.75L799.84 219.40L800.41 219.03L800.97 218.65L801.53 218.27L802.08 217.88L802.63 217.48L803.16 217.08L803.69 216.67L804.20 216.26L804.71 215.85L805.20 215.44L805.67 215.02L806.13 214.61L806.58 214.21L807.00 213.80L807.64 213.13L808.24 212.41L808.80 211.66L809.32 210.91L809.81 210.16L810.28 209.44L810.73 208.77L811.16 208.16L811.58 207.63L812.00 207.20L812.63 206.70L813.16 206.43L813.65 206.31L814.14 206.29L814.67 206.31L815.30 206.30L815.74 206.28L816.22 206.28L816.73 206.30L817.25 206.33L817.79 206.37L818.33 206.42L818.86 206.48L819.38 206.56L819.86 206.65L820.30 206.75L820.94 207.03L821.49 207.44L822.00 207.88L822.51 208.25L823.06 208.46L823.70 208.40L824.14 208.18L824.62 207.83L825.14 207.36L825.67 206.83L826.21 206.26L826.75 205.68L827.27 205.14L827.78 204.65L828.26 204.26L828.70 204.00L829.29 203.75L829.74 203.62L830.14 203.63L830.59 203.81L831.18 204.16L832.00 204.70L832.39 204.98L832.82 205.32L833.29 205.72L833.80 206.17L834.34 206.66L834.89 207.17L835.46 207.70L836.04 208.24L836.63 208.78L837.21 209.31L837.78 209.82L838.34 210.30L838.88 210.75L839.39 211.14L839.86 211.48L840.30 211.75L840.94 212.07L841.54 212.28L842.09 212.41L842.61 212.47L843.11 212.47L843.57 212.43L844.02 212.37L844.46 212.30L844.88 212.24L845.30 212.20L845.93 212.08L846.46 211.83L846.94 211.55L847.43 211.32L848.00 211.21L848.70 211.30L849.09 211.45L849.50 211.67L849.91 211.95L850.34 212.27L850.79 212.62L851.26 212.99L851.75 213.37L852.27 213.74L852.82 214.09L853.41 214.41L854.03 214.68L854.70 214.90L855.10 214.99L855.52 215.06L855.96 215.11L856.42 215.15L856.89 215.17L857.37 215.18L857.87 215.17L858.37 215.17L858.89 215.16L859.41 215.14L859.93 215.13L860.46 215.13L861.00 215.13L861.53 215.14L862.07 215.16L862.60 215.20L863.13 215.25L863.66 215.33L864.18 215.42L864.70 215.55L865.20 215.70L865.71 215.88L866.22 216.10L866.75 216.35L867.29 216.62L867.83 216.92L868.37 217.24L868.92 217.57L869.47 217.91L870.01 218.26L870.55 218.62L871.09 218.98L871.61 219.34L872.13 219.69L872.64 220.03L873.13 220.36L873.61 220.68L874.07 220.98L874.51 221.25L874.93 221.50L875.33 221.72L875.70 221.90L876.44 222.24L877.01 222.50L877.45 222.69L877.83 222.81L878.17 222.87L878.55 222.88L878.99 222.85L879.56 222.79L880.30 222.70L880.68 222.65L881.10 222.58L881.55 222.49L882.03 222.39L882.54 222.27L883.07 222.15L883.62 222.01L884.18 221.87L884.75 221.72L885.33 221.56L885.91 221.41L886.48 221.26L887.05 221.10L887.60 220.96L888.14 220.81L888.66 220.68L889.15 220.56L889.62 220.44L890.05 220.35L890.44 220.26L890.80 220.20L891.60 220.04L892.07 219.91L892.36 219.82L892.59 219.81L892.91 219.89L893.43 220.07L894.30 220.40L894.65 220.54L895.02 220.70L895.42 220.88L895.85 221.09L896.30 221.31L896.77 221.55L897.26 221.81L897.76 222.08L898.28 222.35L898.82 222.63L899.36 222.92L899.92 223.21L900.47 223.49L901.04 223.78L901.61 224.06L902.17 224.33L902.74 224.59L903.30 224.84L903.86 225.07L904.41 225.28L904.95 225.48L905.48 225.65L906.00 225.80L906.51 225.93L907.02 226.04L907.53 226.14L908.05 226.23L908.57 226.31L909.08 226.38L909.60 226.44L910.12 226.49L910.63 226.53L911.15 226.56L911.67 226.58L912.18 226.60L912.70 226.62L913.21 226.62L913.72 226.63L914.23 226.63L914.73 226.63L915.24 226.62L915.74 226.62L916.23 226.61L916.73 226.61L917.22 226.60L917.70 226.60L918.23 226.59L918.77 226.57L919.30 226.55L919.84 226.51L920.38 226.47L920.92 226.42L921.46 226.37L922.00 226.31L922.53 226.25L923.06 226.19L923.58 226.13L924.09 226.06L924.60 226.00L925.09 225.94L925.58 225.89L926.05 225.84L926.51 225.80L926.96 225.76L927.39 225.73L927.80 225.71L928.20 225.70L928.89 225.70L929.49 225.73L930.03 225.78L930.51 225.85L930.96 225.92L931.39 226.01L931.83 226.09L932.29 226.18L932.80 226.26L933.36 226.34L934.00 226.40L934.43 226.43L934.90 226.46L935.39 226.48L935.90 226.50L936.42 226.52L936.97 226.54L937.52 226.56L938.08 226.58L938.64 226.59L939.21 226.61L939.77 226.63L940.32 226.66L940.87 226.69L941.39 226.72L941.91 226.76L942.40 226.80L942.86 226.85L943.30 226.90L943.99 227.01L944.66 227.15L945.31 227.30L945.94 227.47L946.54 227.64L947.11 227.82L947.63 227.99L948.11 228.15L948.53 228.29L948.90 228.41L949.20 228.50L949.20 228.50L758.25 228.50Z" fill="#ebebeb"/>
<path d="M772.00 269.50L772.29 269.50L772.67 269.50L773.11 269.51L773.61 269.52L774.15 269.52L774.72 269.50L775.31 269.46L775.91 269.40L776.50 269.30L776.95 269.19L777.43 269.04L777.93 268.85L778.44 268.65L778.97 268.43L779.50 268.21L780.03 268.00L780.56 267.81L781.07 267.64L781.57 267.51L782.05 267.43L782.50 267.40L783.06 267.48L783.57 267.68L784.06 267.96L784.52 268.30L784.98 268.64L785.44 268.96L785.93 269.22L786.44 269.38L787.00 269.40L787.46 269.31L787.94 269.13L788.46 268.89L788.99 268.60L789.53 268.27L790.07 267.92L790.61 267.57L791.14 267.24L791.65 266.94L792.13 266.69L792.59 266.50L793.00 266.40L793.70 266.47L794.27 266.82L794.77 267.29L795.25 267.76L795.78 268.07L796.40 268.10L796.88 267.91L797.40 267.58L797.94 267.14L798.50 266.64L799.07 266.11L799.64 265.59L800.21 265.10L800.76 264.70L801.30 264.40L801.82 264.22L802.33 264.13L802.83 264.10L803.33 264.12L803.82 264.15L804.31 264.17L804.81 264.17L805.30 264.12L805.80 264.00L806.30 263.79L806.82 263.51L807.33 263.17L807.84 262.81L808.35 262.45L808.86 262.10L809.35 261.80L809.84 261.56L810.30 261.40L810.88 261.35L811.44 261.42L811.98 261.58L812.51 261.78L813.02 261.96L813.52 262.09L814.00 262.10L814.52 261.97L815.00 261.75L815.45 261.47L815.91 261.16L816.42 260.86L817.00 260.60L817.43 260.48L817.89 260.39L818.37 260.32L818.88 260.26L819.39 260.19L819.91 260.08L820.44 259.93L820.97 259.71L821.50 259.40L822.03 258.94L822.56 258.30L823.10 257.56L823.65 256.76L824.20 255.98L824.75 255.28L825.30 254.71L825.85 254.35L826.40 254.25L826.95 254.51L827.51 255.12L828.07 255.96L828.63 256.95L829.18 257.97L829.73 258.93L830.27 259.72L830.80 260.25L831.30 260.40L831.85 260.11L832.38 259.46L832.90 258.53L833.40 257.43L833.89 256.24L834.37 255.06L834.84 253.98L835.30 253.10L835.89 252.08L836.45 251.06L836.99 250.12L837.52 249.31L838.05 248.72L838.60 248.40L839.16 248.48L839.71 248.92L840.27 249.58L840.84 250.29L841.41 250.90L842.00 251.25L842.49 251.31L842.96 251.23L843.43 251.06L843.91 250.85L844.45 250.66L845.05 250.52L845.75 250.50L846.18 250.56L846.65 250.69L847.16 250.86L847.70 251.07L848.26 251.29L848.84 251.51L849.41 251.73L849.99 251.92L850.55 252.07L851.09 252.17L851.60 252.20L852.07 252.15L852.50 252.00L853.21 251.40L853.83 250.43L854.40 249.25L854.91 248.00L855.38 246.82L855.82 245.85L856.25 245.25L856.94 244.91L857.52 245.13L858.03 245.78L858.50 246.75L859.03 248.92L859.47 251.73L860.00 253.90L860.46 254.87L860.94 255.52L861.51 255.74L862.25 255.40L862.65 254.97L863.10 254.32L863.58 253.51L864.10 252.59L864.63 251.64L865.17 250.70L865.71 249.84L866.24 249.12L866.75 248.60L867.25 248.23L867.75 247.93L868.25 247.70L868.75 247.55L869.25 247.49L869.75 247.52L870.25 247.65L870.75 247.89L871.25 248.25L871.75 248.79L872.24 249.53L872.72 250.42L873.21 251.42L873.70 252.47L874.19 253.51L874.70 254.50L875.22 255.38L875.75 256.10L876.24 256.61L876.75 257.04L877.27 257.40L877.79 257.71L878.33 257.98L878.86 258.25L879.40 258.51L879.93 258.80L880.47 259.12L881.00 259.50L881.54 259.95L882.09 260.46L882.66 261.01L883.23 261.59L883.79 262.16L884.34 262.72L884.88 263.24L885.39 263.71L885.86 264.10L886.30 264.40L886.92 264.66L887.41 264.69L887.85 264.59L888.27 264.44L888.74 264.35L889.30 264.40L889.73 264.52L890.17 264.66L890.63 264.83L891.11 265.02L891.61 265.24L892.13 265.47L892.67 265.72L893.23 265.98L893.80 266.25L894.27 266.48L894.78 266.74L895.34 267.02L895.91 267.32L896.50 267.63L897.08 267.94L897.65 268.24L898.19 268.54L898.69 268.80L899.13 269.04L899.51 269.24L899.80 269.40L899.80 269.50L772.00 269.50Z" fill="#ebebeb"/>
<path d="M776.00 331.00L776.28 330.95L776.61 330.88L776.99 330.80L777.41 330.71L777.88 330.61L778.37 330.50L778.89 330.39L779.44 330.27L780.00 330.16L780.57 330.04L781.16 329.93L781.74 329.83L782.32 329.74L782.89 329.66L783.45 329.59L783.99 329.54L784.51 329.51L785.00 329.50L785.52 329.53L786.03 329.60L786.53 329.71L787.02 329.85L787.51 330.02L787.99 330.19L788.46 330.38L788.94 330.56L789.42 330.74L789.90 330.89L790.39 331.02L790.88 331.12L791.39 331.17L791.91 331.17L792.45 331.12L793.00 331.00L793.46 330.85L793.93 330.64L794.42 330.39L794.92 330.09L795.43 329.76L795.95 329.40L796.47 329.02L797.00 328.62L797.53 328.20L798.06 327.78L798.59 327.36L799.12 326.94L799.64 326.54L800.16 326.15L800.66 325.79L801.16 325.45L801.64 325.15L802.11 324.88L802.57 324.67L803.00 324.50L803.58 324.37L804.12 324.35L804.63 324.42L805.10 324.56L805.56 324.75L806.00 324.98L806.44 325.22L806.88 325.45L807.33 325.65L807.80 325.80L808.29 325.88L808.82 325.87L809.38 325.75L810.00 325.50L810.42 325.26L810.85 324.96L811.30 324.60L811.76 324.20L812.23 323.74L812.71 323.26L813.20 322.73L813.71 322.19L814.21 321.63L814.73 321.05L815.25 320.47L815.77 319.89L816.30 319.31L816.83 318.75L817.36 318.21L817.89 317.70L818.42 317.21L818.95 316.77L819.47 316.37L819.98 316.02L820.50 315.73L821.00 315.50L821.50 315.34L822.00 315.25L822.50 315.21L823.00 315.23L823.50 315.29L824.00 315.39L824.50 315.52L825.00 315.67L825.50 315.85L826.00 316.04L826.50 316.24L827.00 316.43L827.50 316.62L828.00 316.80L828.50 316.96L829.00 317.09L829.50 317.20L830.00 317.26L830.50 317.28L831.00 317.24L831.50 317.15L832.00 317.00L832.50 316.78L833.02 316.49L833.53 316.14L834.05 315.74L834.58 315.30L835.11 314.82L835.64 314.30L836.17 313.76L836.70 313.20L837.23 312.63L837.75 312.05L838.27 311.47L838.79 310.90L839.29 310.35L839.80 309.81L840.29 309.31L840.77 308.83L841.24 308.40L841.70 308.01L842.15 307.68L842.58 307.41L843.00 307.20L843.62 307.00L844.19 306.94L844.73 306.99L845.23 307.13L845.71 307.35L846.17 307.62L846.62 307.93L847.07 308.25L847.52 308.57L847.97 308.88L848.44 309.14L848.93 309.34L849.45 309.47L850.00 309.50L850.45 309.46L850.92 309.38L851.40 309.27L851.88 309.13L852.38 308.97L852.89 308.78L853.40 308.58L853.92 308.37L854.44 308.14L854.96 307.92L855.48 307.69L856.00 307.47L856.52 307.26L857.03 307.07L857.53 306.89L858.03 306.73L858.52 306.60L859.00 306.50L859.52 306.40L860.01 306.31L860.49 306.21L860.95 306.12L861.41 306.04L861.85 305.97L862.30 305.92L862.75 305.88L863.21 305.85L863.68 305.86L864.16 305.88L864.67 305.94L865.20 306.02L865.77 306.14L866.36 306.30L867.00 306.50L867.41 306.65L867.85 306.84L868.30 307.06L868.76 307.31L869.25 307.59L869.74 307.88L870.25 308.20L870.76 308.53L871.29 308.88L871.82 309.23L872.35 309.59L872.89 309.95L873.44 310.31L873.98 310.67L874.52 311.02L875.06 311.36L875.60 311.69L876.13 312.00L876.66 312.29L877.17 312.56L877.68 312.80L878.17 313.01L878.65 313.19L879.12 313.34L879.57 313.44L880.00 313.50L880.61 313.51L881.21 313.45L881.80 313.31L882.38 313.11L882.96 312.85L883.52 312.55L884.07 312.21L884.60 311.84L885.12 311.46L885.63 311.06L886.12 310.66L886.59 310.26L887.05 309.88L887.48 309.53L887.89 309.20L888.29 308.92L888.65 308.68L889.00 308.50L889.81 308.14L890.33 307.92L890.69 307.83L891.00 307.86L891.40 307.99L892.00 308.20L892.39 308.36L892.80 308.56L893.24 308.82L893.70 309.11L894.19 309.42L894.69 309.75L895.21 310.08L895.74 310.41L896.29 310.73L896.85 311.02L897.42 311.28L898.00 311.50L898.44 311.63L898.90 311.74L899.36 311.84L899.84 311.92L900.32 311.98L900.81 312.04L901.31 312.09L901.81 312.14L902.32 312.19L902.84 312.25L903.36 312.31L903.88 312.37L904.41 312.45L904.94 312.55L905.47 312.66L906.00 312.80L906.48 312.94L906.97 313.10L907.48 313.28L907.99 313.47L908.51 313.67L909.04 313.88L909.57 314.10L910.10 314.32L910.62 314.54L911.15 314.77L911.67 314.98L912.19 315.20L912.69 315.40L913.18 315.59L913.66 315.77L914.13 315.93L914.57 316.08L915.00 316.20L915.59 316.35L916.10 316.48L916.57 316.58L917.00 316.66L917.41 316.72L917.81 316.76L918.23 316.79L918.67 316.81L919.15 316.81L919.69 316.81L920.30 316.81L921.00 316.80L921.39 316.79L921.80 316.76L922.23 316.72L922.68 316.67L923.14 316.61L923.62 316.54L924.12 316.46L924.63 316.39L925.15 316.30L925.68 316.22L926.21 316.14L926.75 316.06L927.29 315.99L927.84 315.92L928.38 315.86L928.93 315.81L929.47 315.78L930.00 315.75L930.53 315.75L931.05 315.76L931.55 315.78L932.05 315.83L932.53 315.90L933.00 316.00L933.55 316.16L934.09 316.37L934.62 316.62L935.14 316.92L935.66 317.24L936.18 317.60L936.69 317.98L937.19 318.37L937.69 318.77L938.19 319.17L938.68 319.57L939.17 319.96L939.65 320.33L940.14 320.68L940.62 321.01L941.10 321.30L941.57 321.55L942.05 321.75L942.52 321.91L943.00 322.00L943.53 322.04L944.07 322.01L944.60 321.92L945.14 321.78L945.68 321.60L946.22 321.39L946.76 321.14L947.29 320.88L947.81 320.59L948.33 320.30L948.84 320.01L949.33 319.72L949.82 319.45L950.29 319.19L950.74 318.96L951.18 318.77L951.60 318.61L952.00 318.50L952.66 318.37L953.24 318.28L953.76 318.23L954.24 318.22L954.69 318.25L955.12 318.32L955.55 318.43L956.00 318.58L956.48 318.77L957.00 319.00L957.46 319.24L957.91 319.54L958.36 319.88L958.81 320.26L959.28 320.67L959.75 321.09L960.24 321.53L960.74 321.96L961.27 322.39L961.81 322.79L962.39 323.16L963.00 323.50L963.42 323.71L963.85 323.92L964.29 324.13L964.74 324.34L965.19 324.55L965.66 324.76L966.13 324.96L966.62 325.16L967.11 325.34L967.62 325.52L968.13 325.69L968.65 325.85L969.18 326.00L969.73 326.13L970.28 326.25L970.84 326.35L971.42 326.43L972.00 326.50L972.45 326.53L972.91 326.55L973.39 326.55L973.88 326.54L974.38 326.51L974.89 326.47L975.41 326.43L975.93 326.37L976.46 326.31L976.99 326.24L977.53 326.17L978.07 326.09L978.61 326.02L979.15 325.94L979.68 325.87L980.21 325.80L980.74 325.73L981.26 325.67L981.78 325.61L982.29 325.57L982.78 325.53L983.27 325.51L983.74 325.50L984.20 325.50L984.75 325.52L985.27 325.55L985.75 325.59L986.21 325.64L986.65 325.70L987.07 325.77L987.48 325.85L987.89 325.93L988.30 326.02L988.72 326.11L989.15 326.20L989.60 326.30L990.08 326.40L990.58 326.51L991.11 326.61L991.69 326.71L992.30 326.81L992.97 326.91L993.70 327.00L994.09 327.05L994.49 327.09L994.92 327.14L995.36 327.19L995.82 327.24L996.29 327.29L996.78 327.34L997.27 327.40L997.78 327.45L998.30 327.50L998.83 327.56L999.37 327.61L999.92 327.67L1000.47 327.72L1001.03 327.78L1001.59 327.83L1002.16 327.89L1002.73 327.94L1003.29 328.00L1003.86 328.06L1004.43 328.11L1005.00 328.17L1005.56 328.22L1006.12 328.28L1006.67 328.33L1007.22 328.39L1007.75 328.44L1008.29 328.50L1008.81 328.55L1009.32 328.60L1009.82 328.66L1010.30 328.71L1010.78 328.76L1011.24 328.81L1011.68 328.86L1012.10 328.91L1012.51 328.95L1012.90 329.00L1013.63 329.10L1014.30 329.20L1014.91 329.31L1015.48 329.43L1016.02 329.55L1016.51 329.67L1016.98 329.79L1017.42 329.90L1017.85 330.01L1018.27 330.12L1018.68 330.22L1019.10 330.31L1019.52 330.38L1019.95 330.45L1020.40 330.49L1020.87 330.53L1021.38 330.54L1021.92 330.53L1022.50 330.50L1022.95 330.46L1023.42 330.40L1023.90 330.32L1024.39 330.22L1024.90 330.11L1025.41 329.98L1025.94 329.85L1026.47 329.70L1027.01 329.55L1027.55 329.39L1028.10 329.22L1028.65 329.06L1029.20 328.89L1029.75 328.72L1030.30 328.55L1030.85 328.39L1031.39 328.24L1031.93 328.09L1032.46 327.95L1032.99 327.83L1033.50 327.71L1034.01 327.61L1034.50 327.53L1034.98 327.47L1035.45 327.42L1035.90 327.40L1036.48 327.40L1037.01 327.43L1037.51 327.50L1037.97 327.59L1038.41 327.70L1038.82 327.83L1039.23 327.97L1039.63 328.13L1040.02 328.31L1040.43 328.48L1040.85 328.67L1041.29 328.85L1041.76 329.03L1042.26 329.21L1042.80 329.37L1043.39 329.53L1044.03 329.67L1044.73 329.80L1045.50 329.90L1045.88 329.94L1046.28 329.98L1046.70 330.02L1047.14 330.06L1047.60 330.09L1048.09 330.13L1048.58 330.17L1049.10 330.20L1049.62 330.23L1050.17 330.26L1050.72 330.29L1051.28 330.32L1051.85 330.35L1052.43 330.38L1053.02 330.41L1053.61 330.44L1054.21 330.46L1054.80 330.49L1055.40 330.51L1056.00 330.53L1056.60 330.56L1057.19 330.58L1057.79 330.60L1058.37 330.62L1058.95 330.64L1059.52 330.66L1060.08 330.68L1060.63 330.70L1061.17 330.71L1061.70 330.73L1062.21 330.75L1062.71 330.76L1063.18 330.78L1063.64 330.79L1064.08 330.81L1064.50 330.82L1064.90 330.84L1065.27 330.85L1065.62 330.86L1065.94 330.88L1066.24 330.89L1066.50 330.90L1066.50 331.00L776.00 331.00Z" fill="#ebebeb"/>
<text x="5.00" y="29.80" font-size="32.5" text-anchor="start" fill="#000" font-weight="bold" >A</text>
<text x="137.90" y="27.90" font-size="15.87" text-anchor="start" fill="#000" font-weight="normal" >Interactive nomogram with risk score for sample GSM592833</text>
<text x="16.00" y="60.80" font-size="15.7" text-anchor="start" fill="#000" font-weight="normal" >Actual data</text>
<text x="50.00" y="103.50" font-size="15.6" text-anchor="middle" fill="#ff0000" font-weight="normal" >1.01</text>
<text x="51.30" y="140.00" font-size="15.6" text-anchor="middle" fill="#ff0000" font-weight="normal" >abnormal</text>
<text x="50.60" y="180.00" font-size="15.6" text-anchor="middle" fill="#ff0000" font-weight="normal" >0.6</text>
<text x="47.30" y="216.30" font-size="15.6" text-anchor="middle" fill="#ff0000" font-weight="normal" >4.2</text>
<text x="47.00" y="250.50" font-size="15.6" text-anchor="middle" fill="#ff0000" font-weight="normal" >185</text>
<text x="49.40" y="288.80" font-size="15.6" text-anchor="middle" fill="#ff0000" font-weight="normal" >64.16</text>
<text x="116.00" y="75.50" font-size="12.8" text-anchor="start" fill="#000" font-weight="normal" >Points</text>
<text x="116.00" y="102.80" font-size="12.8" text-anchor="start" fill="#000" font-weight="normal" >riskscore***</text>
<text x="116.00" y="140.50" font-size="12.8" text-anchor="start" fill="#000" font-weight="normal" >Cyto.Abn**</text>
<text x="116.00" y="178.10" font-size="12.8" text-anchor="start" fill="#000" font-weight="normal" >CREAT*</text>
<text x="116.00" y="215.50" font-size="12.8" text-anchor="start" fill="#000" font-weight="normal" >ALB**</text>
<text x="116.00" y="253.80" font-size="12.8" text-anchor="start" fill="#000" font-weight="normal" >LDH***</text>
<text x="116.00" y="291.30" font-size="12.8" text-anchor="start" fill="#000" font-weight="normal" >AGE**</text>
<text x="89.20" y="333.90" font-size="13.9" text-anchor="start" fill="#000" font-weight="normal" >Total points</text>
<text x="81.00" y="373.00" font-size="12.7" text-anchor="start" fill="#000" font-weight="normal" >Pr( time &lt; 2555 )</text>
<text x="81.00" y="400.00" font-size="12.7" text-anchor="start" fill="#ff0000" font-weight="normal" >Pr( time &lt; 2016 )</text>
<text x="81.00" y="426.30" font-size="12.7" text-anchor="start" fill="#000" font-weight="normal" >Pr( time &lt; 1826 )</text>
<text x="81.00" y="455.00" font-size="12.7" text-anchor="start" fill="#000" font-weight="normal" >Pr( time &lt; 1095 )</text>
<text x="79.80" y="494.50" font-size="12.7" text-anchor="start" fill="#000" font-weight="normal" >Pr( time &lt; 365 )</text>
<path d="M215.50 67.90V65.90H585.00V67.90" fill="none" stroke="#7a7a7a" stroke-width="1.3"/>
<path d="M215.50 65.90v2.0M289.40 65.90v2.0M363.30 65.90v2.0M437.20 65.90v2.0M511.10 65.90v2.0M585.00 65.90v2.0" stroke="#7a7a7a" stroke-width="1.1"/>
<text x="215.40" y="82.00" font-size="12.6" text-anchor="middle" fill="#000" font-weight="normal" >0</text>
<text x="289.66" y="82.00" font-size="12.6" text-anchor="middle" fill="#000" font-weight="normal" >20</text>
<text x="363.92" y="82.00" font-size="12.6" text-anchor="middle" fill="#000" font-weight="normal" >40</text>
<text x="438.18" y="82.00" font-size="12.6" text-anchor="middle" fill="#000" font-weight="normal" >60</text>
<text x="512.44" y="82.00" font-size="12.6" text-anchor="middle" fill="#000" font-weight="normal" >80</text>
<text x="586.70" y="82.00" font-size="12.6" text-anchor="middle" fill="#000" font-weight="normal" >100</text>
<path d="M199.50 101.70V99.70H576.00" fill="none" stroke="#7a7a7a" stroke-width="1.3"/>
<path d="M200.00 99.70v2.0M271.75 99.70v2.0M343.50 99.70v2.0M414.50 99.70v2.0M486.20 99.70v2.0M557.50 99.70v2.0" stroke="#7a7a7a" stroke-width="1.1"/>
<text x="200.00" y="114.00" font-size="12.6" text-anchor="middle" fill="#000" font-weight="normal" >−3</text>
<text x="271.75" y="114.00" font-size="12.6" text-anchor="middle" fill="#000" font-weight="normal" >−2</text>
<text x="343.50" y="114.00" font-size="12.6" text-anchor="middle" fill="#000" font-weight="normal" >−1</text>
<text x="414.50" y="114.00" font-size="12.6" text-anchor="middle" fill="#000" font-weight="normal" >0</text>
<text x="486.20" y="114.00" font-size="12.6" text-anchor="middle" fill="#000" font-weight="normal" >1</text>
<text x="557.50" y="114.00" font-size="12.6" text-anchor="middle" fill="#000" font-weight="normal" >2</text>
<path d="M370.9 137.6H405.1" stroke="#d2d2d2" stroke-width="1"/>
<rect x="346.45" y="126.75" width="23.85" height="21.75" rx="0.8" fill="#b3e8df" stroke="#4c5cff" stroke-width="1.2"/>
<rect x="405.70" y="129.00" width="18.60" height="17.00" rx="0.8" fill="#b3e8df" stroke="#4c5cff" stroke-width="1.2"/>
<circle cx="358.4" cy="137.6" r="1.1" fill="#000"/>
<text x="338.80" y="140.70" font-size="12.8" text-anchor="end" fill="#000" font-weight="normal" >normal</text>
<text x="432.00" y="140.70" font-size="12.6" text-anchor="start" fill="#000" font-weight="normal" >abnormal</text>
<path d="M400.40 177.30V175.30H522.70V177.30" fill="none" stroke="#7a7a7a" stroke-width="1.3"/>
<path d="M400.40 175.30v2.0M444.80 175.30v2.0M489.30 175.30v2.0M522.70 175.30v2.0" stroke="#7a7a7a" stroke-width="1.1"/>
<text x="400.00" y="189.50" font-size="12.6" text-anchor="middle" fill="#000" font-weight="normal" >0</text>
<text x="444.80" y="189.50" font-size="12.6" text-anchor="middle" fill="#000" font-weight="normal" >4</text>
<text x="489.30" y="189.50" font-size="12.6" text-anchor="middle" fill="#000" font-weight="normal" >8</text>
<text x="522.70" y="189.50" font-size="12.6" text-anchor="middle" fill="#000" font-weight="normal" >11</text>
<path d="M364.00 215.00V213.00H564.50V215.00" fill="none" stroke="#7a7a7a" stroke-width="1.3"/>
<path d="M379.30 213.00v2.0M416.40 213.00v2.0M453.50 213.00v2.0M490.70 213.00v2.0M527.50 213.00v2.0M564.00 213.00v2.0" stroke="#7a7a7a" stroke-width="1.1"/>
<text x="379.30" y="225.70" font-size="12.6" text-anchor="middle" fill="#000" font-weight="normal" >5</text>
<text x="416.40" y="225.70" font-size="12.6" text-anchor="middle" fill="#000" font-weight="normal" >4</text>
<text x="453.50" y="225.70" font-size="12.6" text-anchor="middle" fill="#000" font-weight="normal" >3</text>
<text x="490.70" y="225.70" font-size="12.6" text-anchor="middle" fill="#000" font-weight="normal" >2</text>
<text x="527.50" y="225.70" font-size="12.6" text-anchor="middle" fill="#000" font-weight="normal" >1</text>
<text x="564.00" y="225.70" font-size="12.6" text-anchor="middle" fill="#000" font-weight="normal" >0</text>
<path d="M361.70 252.50V250.50H603.60V252.50" fill="none" stroke="#7a7a7a" stroke-width="1.3"/>
<path d="M366.60 250.50v2.0M406.20 250.50v2.0M445.80 250.50v2.0M485.40 250.50v2.0M525.00 250.50v2.0M564.60 250.50v2.0M603.60 250.50v2.0" stroke="#7a7a7a" stroke-width="1.1"/>
<text x="366.60" y="265.00" font-size="12.6" text-anchor="middle" fill="#000" font-weight="normal" >50</text>
<text x="406.20" y="265.00" font-size="12.6" text-anchor="middle" fill="#000" font-weight="normal" >150</text>
<text x="445.80" y="265.00" font-size="12.6" text-anchor="middle" fill="#000" font-weight="normal" >250</text>
<text x="485.40" y="265.00" font-size="12.6" text-anchor="middle" fill="#000" font-weight="normal" >350</text>
<text x="525.00" y="265.00" font-size="12.6" text-anchor="middle" fill="#000" font-weight="normal" >450</text>
<text x="564.60" y="265.00" font-size="12.6" text-anchor="middle" fill="#000" font-weight="normal" >550</text>
<text x="604.20" y="265.00" font-size="12.6" text-anchor="middle" fill="#000" font-weight="normal" >650</text>
<path d="M315.50 290.50V288.50H475.70V290.50" fill="none" stroke="#7a7a7a" stroke-width="1.3"/>
<path d="M315.50 288.50v2.0M341.45 288.50v2.0M368.10 288.50v2.0M394.75 288.50v2.0M421.40 288.50v2.0M448.05 288.50v2.0M474.70 288.50v2.0" stroke="#7a7a7a" stroke-width="1.1"/>
<text x="314.80" y="303.70" font-size="12.6" text-anchor="middle" fill="#000" font-weight="normal" >20</text>
<text x="341.45" y="303.70" font-size="12.6" text-anchor="middle" fill="#000" font-weight="normal" >30</text>
<text x="368.10" y="303.70" font-size="12.6" text-anchor="middle" fill="#000" font-weight="normal" >40</text>
<text x="394.75" y="303.70" font-size="12.6" text-anchor="middle" fill="#000" font-weight="normal" >50</text>
<text x="421.40" y="303.70" font-size="12.6" text-anchor="middle" fill="#000" font-weight="normal" >60</text>
<text x="448.05" y="303.70" font-size="12.6" text-anchor="middle" fill="#000" font-weight="normal" >70</text>
<text x="474.70" y="303.70" font-size="12.6" text-anchor="middle" fill="#000" font-weight="normal" >80</text>
<path d="M168.75 347.00V345.00H606.25V347.00" fill="none" stroke="#7a7a7a" stroke-width="1.3"/>
<path d="M168.75 345.00v2.0M212.50 345.00v2.0M256.25 345.00v2.0M300.00 345.00v2.0M343.75 345.00v2.0M387.50 345.00v2.0M431.25 345.00v2.0M475.00 345.00v2.0M518.75 345.00v2.0M562.50 345.00v2.0M606.25 345.00v2.0" stroke="#7a7a7a" stroke-width="1.1"/>
<text x="168.75" y="360.00" font-size="12.6" text-anchor="middle" fill="#000" font-weight="normal" >220</text>
<text x="212.50" y="360.00" font-size="12.6" text-anchor="middle" fill="#000" font-weight="normal" >240</text>
<text x="256.25" y="360.00" font-size="12.6" text-anchor="middle" fill="#000" font-weight="normal" >260</text>
<text x="300.00" y="360.00" font-size="12.6" text-anchor="middle" fill="#000" font-weight="normal" >280</text>
<text x="343.75" y="360.00" font-size="12.6" text-anchor="middle" fill="#000" font-weight="normal" >300</text>
<text x="387.50" y="360.00" font-size="12.6" text-anchor="middle" fill="#000" font-weight="normal" >320</text>
<text x="431.25" y="360.00" font-size="12.6" text-anchor="middle" fill="#000" font-weight="normal" >340</text>
<text x="475.00" y="360.00" font-size="12.6" text-anchor="middle" fill="#000" font-weight="normal" >360</text>
<text x="518.75" y="360.00" font-size="12.6" text-anchor="middle" fill="#000" font-weight="normal" >380</text>
<text x="562.50" y="360.00" font-size="12.6" text-anchor="middle" fill="#000" font-weight="normal" >400</text>
<text x="606.25" y="360.00" font-size="12.6" text-anchor="middle" fill="#000" font-weight="normal" >420</text>
<path d="M242.90 374.30V372.30H545.50V374.30" fill="none" stroke="#7a7a7a" stroke-width="1.3"/>
<path d="M243.00 372.30v2.0M290.40 372.30v2.0M326.10 372.30v2.0M380.50 372.30v2.0M419.10 372.30v2.0M467.55 372.30v2.0M512.55 372.30v2.0M545.50 372.30v2.0" stroke="#7a7a7a" stroke-width="1.1"/>
<text x="246.70" y="388.00" font-size="12.6" text-anchor="middle" fill="#000" font-weight="normal" >0.06</text>
<text x="294.10" y="388.00" font-size="12.6" text-anchor="middle" fill="#000" font-weight="normal" >0.12</text>
<text x="329.80" y="388.00" font-size="12.6" text-anchor="middle" fill="#000" font-weight="normal" >0.2</text>
<text x="384.20" y="388.00" font-size="12.6" text-anchor="middle" fill="#000" font-weight="normal" >0.4</text>
<text x="422.80" y="388.00" font-size="12.6" text-anchor="middle" fill="#000" font-weight="normal" >0.6</text>
<text x="471.25" y="388.00" font-size="12.6" text-anchor="middle" fill="#000" font-weight="normal" >0.85</text>
<text x="516.25" y="388.00" font-size="12.6" text-anchor="middle" fill="#000" font-weight="normal" >0.975</text>
<text x="550.00" y="388.00" font-size="12.6" text-anchor="middle" fill="#000" font-weight="normal" >0.998</text>
<path d="M218.00 400.80V398.80H567.00V400.80" fill="none" stroke="#7a7a7a" stroke-width="1.3"/>
<path d="M218.10 398.80v2.0M264.90 398.80v2.0M298.30 398.80v2.0M347.50 398.80v2.0M402.20 398.80v2.0M441.10 398.80v2.0M489.30 398.80v2.0M534.30 398.80v2.0M567.00 398.80v2.0" stroke="#7a7a7a" stroke-width="1.1"/>
<text x="221.80" y="413.50" font-size="12.6" text-anchor="middle" fill="#000" font-weight="normal" >0.03</text>
<text x="268.60" y="413.50" font-size="12.6" text-anchor="middle" fill="#000" font-weight="normal" >0.06</text>
<text x="302.00" y="413.50" font-size="12.6" text-anchor="middle" fill="#000" font-weight="normal" >0.1</text>
<text x="351.20" y="413.50" font-size="12.6" text-anchor="middle" fill="#000" font-weight="normal" >0.2</text>
<text x="405.90" y="413.50" font-size="12.6" text-anchor="middle" fill="#000" font-weight="normal" >0.4</text>
<text x="444.80" y="413.50" font-size="12.6" text-anchor="middle" fill="#000" font-weight="normal" >0.6</text>
<text x="493.00" y="413.50" font-size="12.6" text-anchor="middle" fill="#000" font-weight="normal" >0.85</text>
<text x="538.00" y="413.50" font-size="12.6" text-anchor="middle" fill="#000" font-weight="normal" >0.975</text>
<text x="572.00" y="413.50" font-size="12.6" text-anchor="middle" fill="#000" font-weight="normal" >0.998</text>
<path d="M222.40 427.80V425.80H571.25V427.80" fill="none" stroke="#7a7a7a" stroke-width="1.3"/>
<path d="M222.50 425.80v2.0M269.00 425.80v2.0M302.70 425.80v2.0M351.80 425.80v2.0M406.60 425.80v2.0M445.50 425.80v2.0M493.80 425.80v2.0M538.80 425.80v2.0M571.25 425.80v2.0" stroke="#7a7a7a" stroke-width="1.1"/>
<text x="226.20" y="441.30" font-size="12.6" text-anchor="middle" fill="#000" font-weight="normal" >0.03</text>
<text x="272.70" y="441.30" font-size="12.6" text-anchor="middle" fill="#000" font-weight="normal" >0.06</text>
<text x="306.40" y="441.30" font-size="12.6" text-anchor="middle" fill="#000" font-weight="normal" >0.1</text>
<text x="355.50" y="441.30" font-size="12.6" text-anchor="middle" fill="#000" font-weight="normal" >0.2</text>
<text x="410.30" y="441.30" font-size="12.6" text-anchor="middle" fill="#000" font-weight="normal" >0.4</text>
<text x="449.20" y="441.30" font-size="12.6" text-anchor="middle" fill="#000" font-weight="normal" >0.6</text>
<text x="497.50" y="441.30" font-size="12.6" text-anchor="middle" fill="#000" font-weight="normal" >0.85</text>
<text x="542.50" y="441.30" font-size="12.6" text-anchor="middle" fill="#000" font-weight="normal" >0.975</text>
<text x="576.50" y="441.30" font-size="12.6" text-anchor="middle" fill="#000" font-weight="normal" >0.998</text>
<path d="M191.10 454.80V452.80H593.75V454.80" fill="none" stroke="#7a7a7a" stroke-width="1.3"/>
<path d="M191.10 452.80v2.0M237.20 452.80v2.0M283.10 452.80v2.0M329.90 452.80v2.0M373.80 452.80v2.0M424.80 452.80v2.0M468.30 452.80v2.0M503.80 452.80v2.0M557.55 452.80v2.0M593.30 452.80v2.0" stroke="#7a7a7a" stroke-width="1.1"/>
<text x="194.60" y="467.00" font-size="12.6" text-anchor="middle" fill="#000" font-weight="normal" >0.01</text>
<text x="240.90" y="467.00" font-size="12.6" text-anchor="middle" fill="#000" font-weight="normal" >0.02</text>
<text x="286.80" y="467.00" font-size="12.6" text-anchor="middle" fill="#000" font-weight="normal" >0.04</text>
<text x="333.60" y="467.00" font-size="12.6" text-anchor="middle" fill="#000" font-weight="normal" >0.08</text>
<text x="377.50" y="467.00" font-size="12.6" text-anchor="middle" fill="#000" font-weight="normal" >0.15</text>
<text x="428.50" y="467.00" font-size="12.6" text-anchor="middle" fill="#000" font-weight="normal" >0.3</text>
<text x="472.00" y="467.00" font-size="12.6" text-anchor="middle" fill="#000" font-weight="normal" >0.5</text>
<text x="507.50" y="467.00" font-size="12.6" text-anchor="middle" fill="#000" font-weight="normal" >0.7</text>
<text x="561.25" y="467.00" font-size="12.6" text-anchor="middle" fill="#000" font-weight="normal" >0.93</text>
<text x="597.00" y="467.00" font-size="12.6" text-anchor="middle" fill="#000" font-weight="normal" >0.99</text>
<path d="M215.10 489.80V487.80H594.50V489.80" fill="none" stroke="#7a7a7a" stroke-width="1.3"/>
<path d="M215.10 487.80v2.0M287.50 487.80v2.0M332.20 487.80v2.0M378.50 487.80v2.0M412.30 487.80v2.0M462.05 487.80v2.0M516.30 487.80v2.0M555.05 487.80v2.0M591.30 487.80v2.0" stroke="#7a7a7a" stroke-width="1.1"/>
<text x="218.60" y="503.20" font-size="12.6" text-anchor="middle" fill="#000" font-weight="normal" >0.005</text>
<text x="291.20" y="503.20" font-size="12.6" text-anchor="middle" fill="#000" font-weight="normal" >0.015</text>
<text x="335.90" y="503.20" font-size="12.6" text-anchor="middle" fill="#000" font-weight="normal" >0.03</text>
<text x="382.20" y="503.20" font-size="12.6" text-anchor="middle" fill="#000" font-weight="normal" >0.06</text>
<text x="416.00" y="503.20" font-size="12.6" text-anchor="middle" fill="#000" font-weight="normal" >0.1</text>
<text x="465.75" y="503.20" font-size="12.6" text-anchor="middle" fill="#000" font-weight="normal" >0.2</text>
<text x="520.00" y="503.20" font-size="12.6" text-anchor="middle" fill="#000" font-weight="normal" >0.4</text>
<text x="558.75" y="503.20" font-size="12.6" text-anchor="middle" fill="#000" font-weight="normal" >0.6</text>
<text x="595.00" y="503.20" font-size="12.6" text-anchor="middle" fill="#000" font-weight="normal" >0.8</text>
<text x="626.00" y="31.90" font-size="32.5" text-anchor="start" fill="#000" font-weight="bold" >B</text>
<text x="697.90" y="27.90" font-size="15.84" text-anchor="start" fill="#000" font-weight="normal" >Interactive nomogram without risk score for sample GSM592833</text>
<text x="662.80" y="67.50" font-size="12.8" text-anchor="start" fill="#000" font-weight="normal" >Points</text>
<text x="662.80" y="96.30" font-size="12.8" text-anchor="start" fill="#000" font-weight="normal" >Cyto.Abn***</text>
<text x="662.80" y="136.70" font-size="12.8" text-anchor="start" fill="#000" font-weight="normal" >CREAT***</text>
<text x="662.80" y="178.00" font-size="12.8" text-anchor="start" fill="#000" font-weight="normal" >ALB***</text>
<text x="662.80" y="219.30" font-size="12.8" text-anchor="start" fill="#000" font-weight="normal" >LDH***</text>
<text x="662.80" y="259.90" font-size="12.8" text-anchor="start" fill="#000" font-weight="normal" >AGE*</text>
<text x="663.40" y="297.20" font-size="13.8" text-anchor="start" fill="#000" font-weight="normal" >Total points</text>
<text x="645.00" y="364.90" font-size="12.7" text-anchor="start" fill="#000" font-weight="normal" >Pr( time &lt; 2555 )</text>
<text x="645.00" y="392.40" font-size="12.7" text-anchor="start" fill="#ff0000" font-weight="normal" >Pr( time &lt; 2016 )</text>
<text x="645.00" y="422.00" font-size="12.7" text-anchor="start" fill="#000" font-weight="normal" >Pr( time &lt; 1825 )</text>
<text x="645.00" y="449.50" font-size="12.7" text-anchor="start" fill="#000" font-weight="normal" >Pr( time &lt; 1095 )</text>
<text x="645.00" y="483.40" font-size="12.7" text-anchor="start" fill="#000" font-weight="normal" >Pr( time &lt; 365 )</text>
<path d="M762.50 70.80V68.80H1131.50V70.80" fill="none" stroke="#7a7a7a" stroke-width="1.3"/>
<path d="M762.50 68.80v2.0M836.06 68.80v2.0M909.92 68.80v2.0M983.78 68.80v2.0M1057.64 68.80v2.0M1131.50 68.80v2.0" stroke="#7a7a7a" stroke-width="1.1"/>
<text x="762.20" y="81.50" font-size="12.6" text-anchor="middle" fill="#000" font-weight="normal" >0</text>
<text x="836.06" y="81.50" font-size="12.6" text-anchor="middle" fill="#000" font-weight="normal" >20</text>
<text x="909.92" y="81.50" font-size="12.6" text-anchor="middle" fill="#000" font-weight="normal" >40</text>
<text x="983.78" y="81.50" font-size="12.6" text-anchor="middle" fill="#000" font-weight="normal" >60</text>
<text x="1057.64" y="81.50" font-size="12.6" text-anchor="middle" fill="#000" font-weight="normal" >80</text>
<text x="1131.50" y="81.50" font-size="12.6" text-anchor="middle" fill="#000" font-weight="normal" >100</text>
<path d="M776.7 105.7H837.1" stroke="#d2d2d2" stroke-width="1"/>
<rect x="749.60" y="93.60" width="26.50" height="24.20" rx="0.8" fill="#b3e8df" stroke="#4c5cff" stroke-width="1.2"/>
<rect x="837.70" y="96.80" width="20.00" height="17.90" rx="0.8" fill="#b3e8df" stroke="#4c5cff" stroke-width="1.2"/>
<circle cx="762.7" cy="105.7" r="1.1" fill="#000"/>
<text x="743.30" y="107.60" font-size="12.8" text-anchor="end" fill="#000" font-weight="normal" >normal</text>
<text x="867.50" y="107.60" font-size="12.6" text-anchor="start" fill="#000" font-weight="normal" >abnormal</text>
<path d="M824.00 148.50V146.50H1012.00V148.50" fill="none" stroke="#7a7a7a" stroke-width="1.3"/>
<path d="M824.00 146.50v2.0M859.20 146.50v2.0M894.70 146.50v2.0M930.10 146.50v2.0M965.50 146.50v2.0M1002.50 146.50v2.0" stroke="#7a7a7a" stroke-width="1.1"/>
<text x="824.00" y="160.70" font-size="12.6" text-anchor="middle" fill="#000" font-weight="normal" >0</text>
<text x="859.20" y="160.70" font-size="12.6" text-anchor="middle" fill="#000" font-weight="normal" >2</text>
<text x="894.70" y="160.70" font-size="12.6" text-anchor="middle" fill="#000" font-weight="normal" >4</text>
<text x="930.10" y="160.70" font-size="12.6" text-anchor="middle" fill="#000" font-weight="normal" >6</text>
<text x="965.50" y="160.70" font-size="12.6" text-anchor="middle" fill="#000" font-weight="normal" >8</text>
<text x="1002.50" y="160.70" font-size="12.6" text-anchor="middle" fill="#000" font-weight="normal" >10</text>
<path d="M771.20 189.30V187.30H1068.40V189.30" fill="none" stroke="#7a7a7a" stroke-width="1.3"/>
<path d="M795.20 187.30v2.0M849.90 187.30v2.0M904.80 187.30v2.0M958.90 187.30v2.0M1013.50 187.30v2.0M1068.40 187.30v2.0" stroke="#7a7a7a" stroke-width="1.1"/>
<text x="795.20" y="200.70" font-size="12.6" text-anchor="middle" fill="#000" font-weight="normal" >5</text>
<text x="849.90" y="200.70" font-size="12.6" text-anchor="middle" fill="#000" font-weight="normal" >4</text>
<text x="904.80" y="200.70" font-size="12.6" text-anchor="middle" fill="#000" font-weight="normal" >3</text>
<text x="958.90" y="200.70" font-size="12.6" text-anchor="middle" fill="#000" font-weight="normal" >2</text>
<text x="1013.50" y="200.70" font-size="12.6" text-anchor="middle" fill="#000" font-weight="normal" >1</text>
<text x="1068.40" y="200.70" font-size="12.6" text-anchor="middle" fill="#000" font-weight="normal" >0</text>
<path d="M758.10 230.10V228.10H1163.40V230.10" fill="none" stroke="#7a7a7a" stroke-width="1.3"/>
<path d="M767.40 228.10v2.0M800.40 228.10v2.0M833.40 228.10v2.0M866.40 228.10v2.0M899.40 228.10v2.0M932.40 228.10v2.0M965.40 228.10v2.0M998.40 228.10v2.0M1031.40 228.10v2.0M1064.40 228.10v2.0M1097.40 228.10v2.0M1130.40 228.10v2.0M1163.40 228.10v2.0" stroke="#7a7a7a" stroke-width="1.1"/>
<text x="767.40" y="242.50" font-size="12.6" text-anchor="middle" fill="#000" font-weight="normal" >50</text>
<text x="800.40" y="242.50" font-size="12.6" text-anchor="middle" fill="#000" font-weight="normal" >100</text>
<text x="833.40" y="242.50" font-size="12.6" text-anchor="middle" fill="#000" font-weight="normal" >150</text>
<text x="866.40" y="242.50" font-size="12.6" text-anchor="middle" fill="#000" font-weight="normal" >200</text>
<text x="899.40" y="242.50" font-size="12.6" text-anchor="middle" fill="#000" font-weight="normal" >250</text>
<text x="932.40" y="242.50" font-size="12.6" text-anchor="middle" fill="#000" font-weight="normal" >300</text>
<text x="965.40" y="242.50" font-size="12.6" text-anchor="middle" fill="#000" font-weight="normal" >350</text>
<text x="998.40" y="242.50" font-size="12.6" text-anchor="middle" fill="#000" font-weight="normal" >400</text>
<text x="1031.40" y="242.50" font-size="12.6" text-anchor="middle" fill="#000" font-weight="normal" >450</text>
<text x="1064.40" y="242.50" font-size="12.6" text-anchor="middle" fill="#000" font-weight="normal" >500</text>
<text x="1097.40" y="242.50" font-size="12.6" text-anchor="middle" fill="#000" font-weight="normal" >550</text>
<text x="1130.40" y="242.50" font-size="12.6" text-anchor="middle" fill="#000" font-weight="normal" >600</text>
<text x="1163.40" y="242.50" font-size="12.6" text-anchor="middle" fill="#000" font-weight="normal" >650</text>
<path d="M752.00 272.00V270.00H906.10V272.00" fill="none" stroke="#7a7a7a" stroke-width="1.3"/>
<path d="M752.00 270.00v2.0M777.55 270.00v2.0M803.10 270.00v2.0M828.65 270.00v2.0M854.20 270.00v2.0M879.75 270.00v2.0M905.30 270.00v2.0" stroke="#7a7a7a" stroke-width="1.1"/>
<text x="752.00" y="283.30" font-size="12.6" text-anchor="middle" fill="#000" font-weight="normal" >20</text>
<text x="777.55" y="283.30" font-size="12.6" text-anchor="middle" fill="#000" font-weight="normal" >30</text>
<text x="803.10" y="283.30" font-size="12.6" text-anchor="middle" fill="#000" font-weight="normal" >40</text>
<text x="828.65" y="283.30" font-size="12.6" text-anchor="middle" fill="#000" font-weight="normal" >50</text>
<text x="854.20" y="283.30" font-size="12.6" text-anchor="middle" fill="#000" font-weight="normal" >60</text>
<text x="879.75" y="283.30" font-size="12.6" text-anchor="middle" fill="#000" font-weight="normal" >70</text>
<text x="905.30" y="283.30" font-size="12.6" text-anchor="middle" fill="#000" font-weight="normal" >80</text>
<path d="M744.00 333.30V331.30H1184.60V333.30" fill="none" stroke="#7a7a7a" stroke-width="1.3"/>
<path d="M744.00 331.30v2.0M792.96 331.30v2.0M841.92 331.30v2.0M890.88 331.30v2.0M939.84 331.30v2.0M988.80 331.30v2.0M1037.76 331.30v2.0M1086.72 331.30v2.0M1135.68 331.30v2.0M1184.60 331.30v2.0" stroke="#7a7a7a" stroke-width="1.1"/>
<text x="744.00" y="347.00" font-size="12.6" text-anchor="middle" fill="#000" font-weight="normal" >40</text>
<text x="792.96" y="347.00" font-size="12.6" text-anchor="middle" fill="#000" font-weight="normal" >60</text>
<text x="841.92" y="347.00" font-size="12.6" text-anchor="middle" fill="#000" font-weight="normal" >80</text>
<text x="890.88" y="347.00" font-size="12.6" text-anchor="middle" fill="#000" font-weight="normal" >100</text>
<text x="939.84" y="347.00" font-size="12.6" text-anchor="middle" fill="#000" font-weight="normal" >120</text>
<text x="988.80" y="347.00" font-size="12.6" text-anchor="middle" fill="#000" font-weight="normal" >140</text>
<text x="1037.76" y="347.00" font-size="12.6" text-anchor="middle" fill="#000" font-weight="normal" >160</text>
<text x="1086.72" y="347.00" font-size="12.6" text-anchor="middle" fill="#000" font-weight="normal" >180</text>
<text x="1135.68" y="347.00" font-size="12.6" text-anchor="middle" fill="#000" font-weight="normal" >200</text>
<text x="1184.64" y="347.00" font-size="12.6" text-anchor="middle" fill="#000" font-weight="normal" >220</text>
<path d="M767.10 362.90V360.90H1095.10V362.90" fill="none" stroke="#7a7a7a" stroke-width="1.3"/>
<path d="M767.10 360.90v2.0M807.80 360.90v2.0M864.20 360.90v2.0M917.50 360.90v2.0M962.20 360.90v2.0M1022.70 360.90v2.0M1064.50 360.90v2.0M1095.10 360.90v2.0" stroke="#7a7a7a" stroke-width="1.1"/>
<text x="767.10" y="378.20" font-size="12.6" text-anchor="middle" fill="#000" font-weight="normal" >0.1</text>
<text x="808.60" y="378.20" font-size="12.6" text-anchor="middle" fill="#000" font-weight="normal" >0.16</text>
<text x="865.00" y="378.20" font-size="12.6" text-anchor="middle" fill="#000" font-weight="normal" >0.3</text>
<text x="918.30" y="378.20" font-size="12.6" text-anchor="middle" fill="#000" font-weight="normal" >0.5</text>
<text x="963.00" y="378.20" font-size="12.6" text-anchor="middle" fill="#000" font-weight="normal" >0.7</text>
<text x="1023.50" y="378.20" font-size="12.6" text-anchor="middle" fill="#000" font-weight="normal" >0.92</text>
<text x="1065.30" y="378.20" font-size="12.6" text-anchor="middle" fill="#000" font-weight="normal" >0.985</text>
<text x="1101.80" y="378.20" font-size="12.6" text-anchor="middle" fill="#000" font-weight="normal" >0.998</text>
<path d="M750.50 391.80V389.80H1121.70V391.80" fill="none" stroke="#7a7a7a" stroke-width="1.3"/>
<path d="M751.40 389.80v2.0M792.90 389.80v2.0M834.40 389.80v2.0M891.50 389.80v2.0M945.00 389.80v2.0M989.10 389.80v2.0M1050.50 389.80v2.0M1092.00 389.80v2.0M1121.70 389.80v2.0" stroke="#7a7a7a" stroke-width="1.1"/>
<text x="752.90" y="405.40" font-size="12.6" text-anchor="middle" fill="#000" font-weight="normal" >0.06</text>
<text x="794.40" y="405.40" font-size="12.6" text-anchor="middle" fill="#000" font-weight="normal" >0.1</text>
<text x="835.90" y="405.40" font-size="12.6" text-anchor="middle" fill="#000" font-weight="normal" >0.16</text>
<text x="893.00" y="405.40" font-size="12.6" text-anchor="middle" fill="#000" font-weight="normal" >0.3</text>
<text x="946.50" y="405.40" font-size="12.6" text-anchor="middle" fill="#000" font-weight="normal" >0.5</text>
<text x="990.60" y="405.40" font-size="12.6" text-anchor="middle" fill="#000" font-weight="normal" >0.7</text>
<text x="1052.00" y="405.40" font-size="12.6" text-anchor="middle" fill="#000" font-weight="normal" >0.92</text>
<text x="1093.50" y="405.40" font-size="12.6" text-anchor="middle" fill="#000" font-weight="normal" >0.985</text>
<text x="1131.60" y="405.40" font-size="12.6" text-anchor="middle" fill="#000" font-weight="normal" >0.998</text>
<path d="M756.20 421.00V419.00H1128.00V421.00" fill="none" stroke="#7a7a7a" stroke-width="1.3"/>
<path d="M756.20 419.00v2.0M797.20 419.00v2.0M838.70 419.00v2.0M895.10 419.00v2.0M948.90 419.00v2.0M993.70 419.00v2.0M1054.50 419.00v2.0M1096.60 419.00v2.0M1128.00 419.00v2.0" stroke="#7a7a7a" stroke-width="1.1"/>
<text x="756.80" y="434.00" font-size="12.6" text-anchor="middle" fill="#000" font-weight="normal" >0.06</text>
<text x="798.70" y="434.00" font-size="12.6" text-anchor="middle" fill="#000" font-weight="normal" >0.1</text>
<text x="840.20" y="434.00" font-size="12.6" text-anchor="middle" fill="#000" font-weight="normal" >0.16</text>
<text x="896.60" y="434.00" font-size="12.6" text-anchor="middle" fill="#000" font-weight="normal" >0.3</text>
<text x="950.40" y="434.00" font-size="12.6" text-anchor="middle" fill="#000" font-weight="normal" >0.5</text>
<text x="995.20" y="434.00" font-size="12.6" text-anchor="middle" fill="#000" font-weight="normal" >0.7</text>
<text x="1056.00" y="434.00" font-size="12.6" text-anchor="middle" fill="#000" font-weight="normal" >0.92</text>
<text x="1098.10" y="434.00" font-size="12.6" text-anchor="middle" fill="#000" font-weight="normal" >0.985</text>
<text x="1134.00" y="434.00" font-size="12.6" text-anchor="middle" fill="#000" font-weight="normal" >0.998</text>
<path d="M808.30 449.90V447.90H1133.30V449.90" fill="none" stroke="#7a7a7a" stroke-width="1.3"/>
<path d="M808.50 447.90v2.0M849.30 447.90v2.0M891.50 447.90v2.0M948.90 447.90v2.0M1002.00 447.90v2.0M1046.20 447.90v2.0M1098.60 447.90v2.0M1133.30 447.90v2.0" stroke="#7a7a7a" stroke-width="1.1"/>
<text x="810.00" y="462.20" font-size="12.6" text-anchor="middle" fill="#000" font-weight="normal" >0.06</text>
<text x="850.80" y="462.20" font-size="12.6" text-anchor="middle" fill="#000" font-weight="normal" >0.1</text>
<text x="893.00" y="462.20" font-size="12.6" text-anchor="middle" fill="#000" font-weight="normal" >0.16</text>
<text x="950.40" y="462.20" font-size="12.6" text-anchor="middle" fill="#000" font-weight="normal" >0.3</text>
<text x="1003.50" y="462.20" font-size="12.6" text-anchor="middle" fill="#000" font-weight="normal" >0.5</text>
<text x="1047.70" y="462.20" font-size="12.6" text-anchor="middle" fill="#000" font-weight="normal" >0.7</text>
<text x="1100.10" y="462.20" font-size="12.6" text-anchor="middle" fill="#000" font-weight="normal" >0.9</text>
<text x="1135.00" y="462.20" font-size="12.6" text-anchor="middle" fill="#000" font-weight="normal" >0.97</text>
<path d="M778.80 484.00V482.00H1143.30V484.00" fill="none" stroke="#7a7a7a" stroke-width="1.3"/>
<path d="M781.90 482.00v2.0M823.70 482.00v2.0M860.90 482.00v2.0M917.00 482.00v2.0M972.50 482.00v2.0M1018.60 482.00v2.0M1051.20 482.00v2.0M1100.90 482.00v2.0M1143.30 482.00v2.0" stroke="#7a7a7a" stroke-width="1.1"/>
<text x="783.40" y="497.00" font-size="12.6" text-anchor="middle" fill="#000" font-weight="normal" >0.015</text>
<text x="825.20" y="497.00" font-size="12.6" text-anchor="middle" fill="#000" font-weight="normal" >0.025</text>
<text x="862.40" y="497.00" font-size="12.6" text-anchor="middle" fill="#000" font-weight="normal" >0.04</text>
<text x="918.50" y="497.00" font-size="12.6" text-anchor="middle" fill="#000" font-weight="normal" >0.08</text>
<text x="974.00" y="497.00" font-size="12.6" text-anchor="middle" fill="#000" font-weight="normal" >0.15</text>
<text x="1020.10" y="497.00" font-size="12.6" text-anchor="middle" fill="#000" font-weight="normal" >0.25</text>
<text x="1052.70" y="497.00" font-size="12.6" text-anchor="middle" fill="#000" font-weight="normal" >0.35</text>
<text x="1102.40" y="497.00" font-size="12.6" text-anchor="middle" fill="#000" font-weight="normal" >0.55</text>
<text x="1146.20" y="497.00" font-size="12.6" text-anchor="middle" fill="#000" font-weight="normal" >0.75</text>
<path d="M296.00 99.70L296.28 99.70L296.62 99.70L297.01 99.71L297.44 99.72L297.91 99.73L298.42 99.74L298.96 99.74L299.51 99.74L300.09 99.73L300.67 99.72L301.26 99.69L301.85 99.64L302.43 99.58L303.00 99.50L303.47 99.41L303.94 99.31L304.42 99.18L304.90 99.04L305.39 98.88L305.89 98.72L306.40 98.55L306.91 98.37L307.42 98.20L307.94 98.03L308.46 97.87L308.99 97.71L309.53 97.57L310.07 97.45L310.61 97.34L311.15 97.26L311.70 97.20L312.17 97.17L312.66 97.17L313.16 97.18L313.67 97.21L314.19 97.25L314.71 97.31L315.24 97.37L315.77 97.44L316.30 97.52L316.83 97.59L317.36 97.67L317.88 97.75L318.40 97.82L318.91 97.88L319.41 97.94L319.90 97.98L320.37 98.01L320.83 98.03L321.28 98.02L321.70 98.00L322.31 97.93L322.87 97.83L323.39 97.70L323.87 97.55L324.33 97.39L324.78 97.20L325.22 97.01L325.67 96.80L326.13 96.60L326.61 96.39L327.13 96.19L327.69 95.99L328.30 95.80L328.73 95.68L329.17 95.57L329.63 95.45L330.11 95.33L330.60 95.21L331.10 95.10L331.61 94.98L332.13 94.86L332.66 94.74L333.19 94.62L333.72 94.50L334.25 94.37L334.78 94.25L335.31 94.12L335.83 93.99L336.35 93.86L336.85 93.72L337.35 93.58L337.83 93.44L338.30 93.30L338.88 93.11L339.46 92.91L340.05 92.69L340.63 92.47L341.21 92.23L341.79 92.00L342.36 91.76L342.92 91.53L343.46 91.29L343.99 91.07L344.51 90.85L345.00 90.65L345.46 90.46L345.90 90.28L346.32 90.13L346.70 90.00L347.50 89.72L348.02 89.53L348.41 89.41L348.78 89.36L349.27 89.39L350.00 89.50L350.37 89.58L350.78 89.69L351.20 89.83L351.65 90.00L352.13 90.19L352.62 90.39L353.12 90.59L353.64 90.80L354.18 90.99L354.72 91.18L355.27 91.34L355.82 91.49L356.38 91.60L356.94 91.67L357.50 91.70L357.98 91.69L358.47 91.65L358.98 91.58L359.51 91.49L360.05 91.38L360.60 91.26L361.15 91.12L361.70 90.97L362.26 90.82L362.81 90.66L363.35 90.50L363.88 90.35L364.40 90.21L364.91 90.07L365.39 89.95L365.85 89.84L366.29 89.76L366.70 89.70L367.36 89.65L367.94 89.67L368.46 89.73L368.93 89.83L369.36 89.93L369.79 90.03L370.21 90.10L370.66 90.13L371.15 90.11L371.70 90.00L372.15 89.86L372.59 89.66L373.04 89.42L373.50 89.14L373.97 88.84L374.44 88.53L374.93 88.21L375.44 87.89L375.97 87.59L376.51 87.31L377.08 87.06L377.68 86.86L378.30 86.70L378.73 86.63L379.17 86.58L379.64 86.56L380.12 86.55L380.62 86.56L381.13 86.58L381.65 86.62L382.18 86.65L382.71 86.70L383.24 86.74L383.78 86.79L384.32 86.83L384.85 86.86L385.38 86.89L385.90 86.90L386.41 86.90L386.90 86.89L387.39 86.85L387.85 86.79L388.30 86.70L388.88 86.54L389.44 86.32L389.99 86.07L390.52 85.77L391.04 85.46L391.56 85.12L392.06 84.77L392.55 84.43L393.04 84.09L393.51 83.77L393.98 83.47L394.44 83.21L394.90 82.98L395.35 82.81L395.80 82.70L396.40 82.64L396.98 82.68L397.55 82.79L398.10 82.95L398.64 83.16L399.17 83.39L399.69 83.63L400.20 83.86L400.70 84.06L401.20 84.21L401.70 84.30L402.25 84.35L402.80 84.38L403.34 84.38L403.88 84.37L404.41 84.33L404.92 84.28L405.41 84.21L405.87 84.12L406.31 84.02L406.70 83.90L407.31 83.63L407.72 83.30L408.08 82.90L408.53 82.40L409.20 81.80L409.61 81.46L410.06 81.04L410.57 80.58L411.10 80.08L411.66 79.57L412.23 79.06L412.81 78.58L413.39 78.14L413.95 77.76L414.49 77.45L415.00 77.25L415.52 77.12L416.02 77.06L416.51 77.06L416.98 77.11L417.44 77.23L417.92 77.39L418.40 77.61L418.90 77.87L419.43 78.16L420.00 78.50L420.45 78.81L420.90 79.20L421.35 79.64L421.80 80.13L422.27 80.65L422.74 81.19L423.24 81.74L423.75 82.27L424.28 82.78L424.84 83.25L425.43 83.67L426.05 84.02L426.70 84.30L427.13 84.43L427.58 84.52L428.04 84.59L428.52 84.63L429.02 84.66L429.53 84.66L430.06 84.65L430.59 84.62L431.13 84.59L431.67 84.55L432.22 84.50L432.77 84.46L433.32 84.41L433.87 84.37L434.41 84.34L434.95 84.32L435.48 84.32L436.01 84.33L436.52 84.36L437.02 84.42L437.50 84.50L438.05 84.63L438.61 84.80L439.16 84.99L439.70 85.21L440.24 85.45L440.78 85.71L441.31 85.98L441.84 86.25L442.36 86.53L442.88 86.80L443.38 87.07L443.89 87.32L444.38 87.56L444.86 87.77L445.34 87.95L445.80 88.11L446.26 88.22L446.70 88.30L447.30 88.33L447.88 88.29L448.45 88.18L449.00 88.03L449.54 87.83L450.06 87.62L450.56 87.38L451.05 87.15L451.53 86.93L451.99 86.73L452.44 86.57L452.88 86.45L453.30 86.40L453.91 86.39L454.42 86.42L454.87 86.49L455.29 86.62L455.73 86.82L456.22 87.07L456.80 87.40L457.50 87.80L457.90 88.04L458.34 88.33L458.79 88.65L459.27 89.00L459.76 89.37L460.27 89.76L460.80 90.17L461.34 90.58L461.89 91.00L462.44 91.41L463.00 91.81L463.57 92.20L464.13 92.57L464.69 92.91L465.25 93.22L465.80 93.50L466.29 93.73L466.81 93.95L467.33 94.16L467.86 94.37L468.41 94.58L468.96 94.77L469.51 94.95L470.06 95.13L470.61 95.29L471.15 95.43L471.69 95.57L472.21 95.69L472.72 95.79L473.22 95.87L473.70 95.93L474.16 95.98L474.59 96.00L475.00 96.00L475.67 95.93L476.26 95.77L476.79 95.53L477.27 95.23L477.72 94.89L478.15 94.53L478.58 94.15L479.02 93.77L479.49 93.42L480.00 93.10L480.49 92.81L480.99 92.48L481.50 92.13L482.01 91.78L482.53 91.42L483.05 91.08L483.58 90.78L484.10 90.51L484.64 90.30L485.17 90.16L485.70 90.10L486.19 90.12L486.69 90.21L487.19 90.36L487.70 90.56L488.21 90.80L488.72 91.06L489.23 91.35L489.73 91.65L490.24 91.96L490.73 92.26L491.22 92.54L491.70 92.80L492.25 93.11L492.77 93.44L493.26 93.78L493.74 94.14L494.23 94.49L494.73 94.83L495.26 95.16L495.82 95.47L496.43 95.75L497.10 96.00L497.52 96.13L497.97 96.25L498.42 96.36L498.90 96.47L499.39 96.57L499.89 96.66L500.40 96.75L500.92 96.82L501.45 96.90L501.98 96.97L502.52 97.03L503.07 97.09L503.61 97.14L504.16 97.18L504.71 97.23L505.26 97.27L505.80 97.30L506.29 97.32L506.78 97.34L507.29 97.34L507.79 97.34L508.31 97.33L508.82 97.31L509.34 97.29L509.86 97.27L510.39 97.24L510.91 97.21L511.44 97.18L511.96 97.16L512.48 97.13L512.99 97.11L513.51 97.10L514.01 97.09L514.52 97.08L515.01 97.09L515.50 97.10L516.04 97.13L516.57 97.16L517.10 97.21L517.62 97.26L518.14 97.32L518.65 97.38L519.16 97.45L519.67 97.52L520.17 97.59L520.67 97.66L521.18 97.73L521.68 97.79L522.18 97.85L522.68 97.90L523.19 97.94L523.69 97.98L524.20 98.00L524.71 98.01L525.22 98.01L525.74 98.00L526.25 97.98L526.77 97.95L527.28 97.92L527.80 97.88L528.31 97.84L528.82 97.81L529.34 97.77L529.84 97.74L530.35 97.71L530.85 97.69L531.34 97.67L531.83 97.67L532.32 97.68L532.80 97.70L533.32 97.74L533.80 97.80L534.24 97.87L534.67 97.96L535.09 98.05L535.49 98.15L535.91 98.26L536.33 98.37L536.78 98.48L537.26 98.58L537.78 98.68L538.34 98.78L538.96 98.86L539.64 98.94L540.40 99.00L540.79 99.02L541.19 99.05L541.62 99.07L542.07 99.09L542.54 99.11L543.03 99.13L543.53 99.15L544.04 99.17L544.57 99.19L545.11 99.20L545.66 99.22L546.21 99.23L546.78 99.24L547.34 99.25L547.91 99.27L548.49 99.27L549.06 99.28L549.63 99.29L550.20 99.30L550.77 99.30L551.33 99.31L551.88 99.31L552.43 99.32L552.96 99.32L553.49 99.32L554.00 99.32L554.49 99.32L554.97 99.32L555.43 99.31L555.88 99.31L556.30 99.31L556.70 99.30L557.41 99.28L558.06 99.26L558.68 99.22L559.25 99.18L559.79 99.14L560.30 99.09L560.78 99.03L561.25 98.98L561.70 98.92L562.14 98.87L562.57 98.81L563.00 98.76L563.43 98.72L563.88 98.68L564.33 98.64L564.80 98.62L565.30 98.60L565.80 98.59L566.30 98.59L566.78 98.59L567.26 98.59L567.74 98.60L568.21 98.61L568.69 98.62L569.16 98.64L569.65 98.66L570.14 98.68L570.64 98.71L571.16 98.74L571.69 98.77L572.24 98.80L572.80 98.83L573.39 98.87L574.00 98.90L574.44 98.93L574.91 98.95L575.40 98.99L575.92 99.02L576.46 99.06L577.01 99.09L577.58 99.13L578.15 99.17L578.74 99.22L579.33 99.26L579.92 99.30L580.50 99.35L581.08 99.39L581.66 99.43L582.22 99.48L582.76 99.52L583.29 99.56L583.80 99.60L584.28 99.63L584.74 99.67L585.16 99.70L585.56 99.73L585.91 99.76L586.23 99.78L586.50 99.80" fill="none" stroke="#3d4dff" stroke-width="1.15" stroke-linejoin="round"/>
<path d="M209.00 99.70H222.00" stroke="#2a35b0" stroke-width="1.2" opacity="0.6"/>
<path d="M245.00 99.70H296.00" stroke="#2a35b0" stroke-width="1.2" opacity="0.6"/>
<path d="M400.50 175.10L400.83 175.12L401.29 175.20L401.84 175.29L402.43 175.34L403.03 175.27L403.60 175.05L404.10 174.60L404.71 173.60L405.29 172.25L405.84 170.65L406.34 168.88L406.80 167.00L407.44 163.17L407.98 158.93L408.50 155.60L409.02 153.72L409.53 152.77L410.10 152.50L410.61 152.71L411.17 153.31L411.74 154.29L412.30 155.60L412.82 157.43L413.32 159.74L413.84 162.15L414.40 164.30L414.87 165.80L415.33 167.24L415.83 168.58L416.41 169.78L417.10 170.80L417.55 171.28L418.05 171.69L418.59 172.04L419.16 172.35L419.74 172.63L420.33 172.87L420.91 173.09L421.47 173.30L422.00 173.50L422.50 173.71L422.90 173.88L423.24 174.02L423.60 174.14L424.03 174.24L424.58 174.32L425.32 174.41L426.30 174.50L426.65 174.53L427.04 174.55L427.45 174.58L427.90 174.60L428.37 174.63L428.86 174.65L429.37 174.68L429.91 174.70L430.46 174.72L431.02 174.74L431.59 174.76L432.17 174.78L432.75 174.80L433.34 174.82L433.92 174.83L434.51 174.85L435.09 174.87L435.66 174.88L436.22 174.90L436.76 174.91L437.29 174.93L437.80 174.94L438.30 174.95L438.76 174.96L439.21 174.98L439.62 174.99L440.00 175.00L440.79 175.02L441.52 175.04L442.18 175.06L442.79 175.07L443.35 175.08L443.86 175.08L444.32 175.09L444.73 175.09L445.10 175.09L445.44 175.09L445.73 175.10L446.00 175.10" fill="none" stroke="#3d4dff" stroke-width="1.15" stroke-linejoin="round"/>
<path d="M446.00 175.10H470.00" stroke="#2a35b0" stroke-width="1.2" opacity="0.6"/>
<path d="M480.00 175.10H500.00" stroke="#2a35b0" stroke-width="1.2" opacity="0.6"/>
<path d="M503.00 175.10H523.00" stroke="#2a35b0" stroke-width="1.2" opacity="0.6"/>
<path d="M363.20 213.20L363.50 213.15L363.87 213.10L364.31 213.04L364.79 212.97L365.33 212.89L365.89 212.81L366.48 212.72L367.09 212.63L367.71 212.54L368.32 212.44L368.92 212.35L369.49 212.26L370.04 212.17L370.55 212.08L371.00 212.00L371.61 211.88L372.18 211.76L372.71 211.64L373.20 211.52L373.68 211.41L374.13 211.29L374.59 211.17L375.04 211.05L375.51 210.92L376.00 210.80L376.50 210.69L377.00 210.59L377.50 210.50L378.00 210.42L378.50 210.32L379.00 210.22L379.50 210.09L380.00 209.93L380.50 209.74L381.00 209.50L381.50 209.20L382.00 208.86L382.50 208.47L383.00 208.56L383.50 207.38L384.00 206.32L384.50 205.73L385.00 205.70L385.50 206.02L386.00 206.30L386.50 206.15L387.02 205.45L387.53 204.40L388.05 203.43L388.56 202.95L389.07 203.04L389.57 203.48L390.06 203.84L390.54 203.80L391.00 203.25L391.55 202.12L392.09 201.02L392.62 200.40L393.12 200.37L393.62 200.69L394.09 200.97L394.55 200.89L395.00 200.34L395.56 199.08L396.07 197.75L396.56 196.76L397.04 196.30L397.51 196.28L398.00 196.44L398.49 196.39L398.96 195.85L399.44 194.85L399.93 193.63L400.44 192.55L401.00 192.06L401.45 192.20L401.93 192.61L402.43 192.96L402.94 192.88L403.46 192.24L403.98 191.28L404.49 190.48L405.00 190.22L405.50 190.55L406.00 191.24L406.50 191.89L407.00 192.12L407.50 191.82L408.00 191.19L408.50 190.63L409.00 190.50L409.50 190.96L410.00 191.85L410.50 192.76L411.00 193.31L411.50 193.31L412.00 192.90L412.50 192.43L413.00 192.31L413.50 192.72L414.00 193.58L414.50 194.52L415.00 195.13L415.50 195.20L416.00 194.80L416.50 194.27L417.00 194.04L417.49 194.33L417.98 195.09L418.46 196.02L418.94 196.75L419.43 197.02L419.93 196.77L420.45 196.24L421.00 195.89L421.46 196.06L421.94 196.73L422.43 197.69L422.93 198.57L423.44 198.99L423.95 198.84L424.47 198.35L424.98 197.96L425.50 198.06L426.00 198.72L426.49 199.69L426.97 200.57L427.44 201.06L427.90 201.06L428.38 200.68L428.86 200.24L429.35 200.09L429.87 200.50L430.42 201.44L431.00 202.49L431.44 202.96L431.92 202.95L432.41 202.50L432.92 201.90L433.45 201.61L433.99 201.94L434.52 202.79L435.06 203.70L435.60 204.20L436.12 204.09L436.62 203.56L437.11 203.03L437.57 202.85L438.00 203.12L438.62 204.13L439.18 205.17L439.71 205.73L440.21 205.71L440.69 205.32L441.16 204.92L441.62 204.82L442.10 205.25L442.60 206.20L443.09 207.39L443.55 208.43L444.00 209.10L444.45 209.37L444.91 209.35L445.40 209.48L445.94 209.92L446.53 210.62L447.20 211.10L447.62 211.13L448.07 211.10L448.55 211.01L449.06 210.88L449.59 210.71L450.13 210.51L450.68 210.28L451.24 210.04L451.81 209.80L452.36 209.56L452.92 209.32L453.46 209.11L453.98 208.92L454.48 208.77L454.96 208.66L455.40 208.60L456.00 208.59L456.56 208.63L457.09 208.72L457.60 208.85L458.08 209.01L458.55 209.19L459.01 209.39L459.47 209.58L459.94 209.77L460.41 209.95L460.90 210.10L461.40 210.24L461.90 210.40L462.40 210.56L462.90 210.72L463.40 210.88L463.90 211.03L464.40 211.18L464.90 211.31L465.40 211.43L465.90 211.53L466.40 211.60L466.90 211.64L467.39 211.65L467.88 211.63L468.36 211.60L468.85 211.55L469.34 211.50L469.83 211.45L470.34 211.41L470.85 211.38L471.37 211.38L471.90 211.40L472.40 211.45L472.89 211.53L473.39 211.63L473.90 211.74L474.41 211.86L474.93 211.98L475.45 212.10L475.99 212.22L476.55 212.32L477.11 212.41L477.70 212.47L478.30 212.50L478.77 212.50L479.28 212.49L479.80 212.45L480.35 212.41L480.91 212.35L481.48 212.29L482.05 212.22L482.62 212.15L483.18 212.08L483.74 212.01L484.28 211.95L484.80 211.89L485.30 211.85L485.77 211.81L486.20 211.80L486.60 211.80L487.40 211.87L488.10 212.02L488.70 212.20L489.21 212.41L489.65 212.61L490.01 212.78L490.30 212.90" fill="none" stroke="#3d4dff" stroke-width="1.15" stroke-linejoin="round"/>
<path d="M550.00 212.90H558.00" stroke="#2a35b0" stroke-width="1.2" opacity="0.6"/>
<path d="M361.40 250.60L361.68 250.58L362.00 250.56L362.36 250.54L362.76 250.52L363.20 250.50L363.66 250.48L364.16 250.46L364.68 250.43L365.22 250.41L365.78 250.38L366.35 250.35L366.94 250.32L367.54 250.29L368.15 250.26L368.76 250.22L369.36 250.18L369.97 250.14L370.57 250.09L371.16 250.04L371.74 249.99L372.31 249.93L372.85 249.87L373.38 249.81L373.88 249.74L374.35 249.66L374.79 249.58L375.20 249.50L375.92 249.33L376.58 249.15L377.19 248.96L377.76 248.76L378.28 248.55L378.78 248.33L379.25 248.09L379.71 247.84L380.15 247.57L380.60 247.28L381.05 246.97L381.51 246.64L381.99 246.28L382.50 245.90L383.03 245.49L383.59 245.04L384.15 244.56L384.72 244.06L385.29 243.53L385.86 242.99L386.43 242.43L386.99 241.86L387.53 241.29L388.06 240.72L388.56 240.15L389.04 239.59L389.49 239.03L389.90 238.50L390.60 237.40L391.18 236.22L391.66 235.03L392.09 233.88L392.51 232.82L392.97 231.91L393.50 231.20L393.98 230.81L394.50 230.53L395.04 230.34L395.60 230.24L396.16 230.20L396.70 230.20L397.21 230.23L397.68 230.27L398.10 230.30L398.80 230.58L399.31 231.11L399.78 231.55L400.40 231.60L400.87 231.32L401.40 230.84L401.96 230.24L402.54 229.59L403.10 228.98L403.63 228.49L404.10 228.20L404.74 228.06L405.26 228.19L405.77 228.61L406.40 229.30L406.83 229.90L407.28 230.71L407.75 231.64L408.25 232.60L408.79 233.50L409.37 234.26L410.00 234.80L410.44 234.99L410.92 235.09L411.44 235.11L411.97 235.07L412.52 234.99L413.08 234.89L413.63 234.79L414.16 234.71L414.68 234.67L415.16 234.70L415.60 234.80L416.19 235.12L416.69 235.57L417.14 236.11L417.57 236.68L418.03 237.24L418.56 237.73L419.20 238.10L419.63 238.24L420.10 238.33L420.60 238.38L421.12 238.39L421.66 238.39L422.22 238.39L422.78 238.39L423.36 238.42L423.93 238.48L424.50 238.59L425.05 238.76L425.60 239.00L426.09 239.31L426.57 239.71L427.05 240.18L427.52 240.70L427.99 241.26L428.47 241.83L428.95 242.41L429.44 242.96L429.93 243.49L430.45 243.96L430.98 244.37L431.53 244.68L432.10 244.90L432.56 244.99L433.06 245.03L433.59 245.01L434.13 244.95L434.69 244.86L435.27 244.73L435.84 244.58L436.42 244.41L437.00 244.23L437.56 244.05L438.11 243.86L438.64 243.68L439.15 243.51L439.62 243.37L440.06 243.24L440.45 243.15L440.80 243.10L441.71 243.01L442.04 243.05L442.32 243.29L443.10 243.80L443.47 244.02L443.90 244.29L444.37 244.60L444.87 244.94L445.41 245.31L445.97 245.70L446.55 246.10L447.13 246.50L447.72 246.89L448.30 247.26L448.86 247.60L449.41 247.91L449.92 248.18L450.40 248.40L450.96 248.62L451.48 248.80L451.96 248.93L452.43 249.04L452.89 249.11L453.34 249.16L453.80 249.18L454.28 249.18L454.78 249.17L455.32 249.14L455.90 249.10L456.36 249.05L456.85 248.98L457.35 248.89L457.88 248.77L458.42 248.64L458.97 248.50L459.53 248.35L460.09 248.21L460.65 248.06L461.20 247.93L461.75 247.80L462.29 247.69L462.81 247.60L463.32 247.54L463.80 247.50L464.38 247.49L464.95 247.51L465.50 247.56L466.04 247.62L466.56 247.71L467.08 247.81L467.59 247.92L468.09 248.03L468.57 248.15L469.06 248.27L469.53 248.39L470.00 248.50L470.54 248.63L471.04 248.78L471.53 248.94L471.99 249.11L472.45 249.28L472.91 249.45L473.39 249.61L473.89 249.76L474.42 249.89L475.00 250.00L475.45 250.07L475.96 250.13L476.49 250.18L477.06 250.23L477.64 250.27L478.23 250.31L478.81 250.34L479.38 250.37L479.93 250.40L480.45 250.42L480.93 250.44L481.35 250.46L481.71 250.48L482.00 250.50" fill="none" stroke="#3d4dff" stroke-width="1.15" stroke-linejoin="round"/>
<path d="M482.00 250.50H500.00" stroke="#2a35b0" stroke-width="1.2" opacity="0.6"/>
<path d="M515.00 250.50H545.00" stroke="#2a35b0" stroke-width="1.2" opacity="0.6"/>
<path d="M588.00 250.50H597.00" stroke="#2a35b0" stroke-width="1.2" opacity="0.6"/>
<path d="M338.00 288.40L338.30 288.33L338.66 288.24L339.09 288.13L339.57 288.01L340.10 287.88L340.66 287.73L341.25 287.58L341.86 287.43L342.48 287.28L343.10 287.13L343.72 287.00L344.32 286.87L344.89 286.75L345.44 286.66L345.94 286.58L346.40 286.53L346.80 286.50L347.59 286.55L348.21 286.74L348.70 287.00L349.13 287.31L349.53 287.61L349.97 287.86L350.50 288.00L350.97 288.05L351.46 288.07L351.97 288.07L352.48 288.05L353.00 288.01L353.52 287.94L354.03 287.85L354.53 287.73L355.00 287.60L355.59 287.35L356.16 286.99L356.72 286.59L357.26 286.18L357.79 285.81L358.31 285.54L358.80 285.40L359.32 285.49L359.78 285.81L360.21 286.22L360.67 286.63L361.18 286.89L361.80 286.90L362.23 286.74L362.71 286.49L363.22 286.15L363.76 285.75L364.31 285.32L364.86 284.88L365.42 284.45L365.97 284.07L366.50 283.74L367.00 283.50L367.53 283.34L368.05 283.25L368.55 283.23L369.05 283.24L369.54 283.26L370.03 283.29L370.51 283.28L371.00 283.22L371.50 283.10L372.00 282.89L372.50 282.60L373.00 282.27L373.50 281.91L374.00 281.54L374.50 281.20L375.00 280.89L375.50 280.65L376.00 280.50L376.49 280.46L376.96 280.52L377.41 280.64L377.87 280.81L378.34 281.00L378.83 281.17L379.35 281.29L379.90 281.35L380.50 281.30L380.95 281.21L381.44 281.10L381.94 280.95L382.48 280.79L383.02 280.60L383.58 280.39L384.14 280.17L384.70 279.93L385.25 279.68L385.79 279.42L386.32 279.15L386.82 278.88L387.30 278.60L387.88 278.18L388.44 277.65L388.97 277.05L389.48 276.43L389.98 275.81L390.48 275.23L390.97 274.73L391.47 274.36L391.98 274.13L392.50 274.10L392.99 274.30L393.50 274.73L394.01 275.34L394.52 276.08L395.04 276.88L395.55 277.69L396.06 278.47L396.56 279.15L397.06 279.69L397.54 280.02L398.00 280.10L398.55 279.84L399.10 279.27L399.63 278.46L400.15 277.48L400.66 276.41L401.15 275.32L401.62 274.27L402.07 273.34L402.50 272.60L403.07 271.69L403.56 270.85L404.00 270.12L404.44 269.53L404.93 269.11L405.50 268.90L405.94 268.93L406.41 269.12L406.91 269.42L407.44 269.80L407.97 270.23L408.50 270.64L409.02 271.02L409.52 271.32L410.00 271.50L410.56 271.55L411.07 271.48L411.56 271.32L412.05 271.12L412.57 270.94L413.15 270.81L413.80 270.80L414.23 270.87L414.69 271.02L415.18 271.21L415.69 271.44L416.22 271.69L416.76 271.93L417.29 272.15L417.83 272.33L418.35 272.46L418.86 272.50L419.35 272.46L419.80 272.30L420.38 271.86L420.94 271.19L421.50 270.34L422.03 269.39L422.54 268.41L423.03 267.46L423.48 266.61L423.91 265.94L424.30 265.50L425.03 265.18L425.59 265.42L426.05 266.09L426.50 267.00L427.02 268.93L427.47 271.40L428.00 273.40L428.45 274.45L428.92 275.32L429.50 275.77L430.30 275.60L430.71 275.26L431.17 274.73L431.67 274.05L432.20 273.26L432.76 272.41L433.33 271.55L433.90 270.73L434.46 269.98L435.00 269.35L435.50 268.90L436.03 268.54L436.55 268.24L437.05 268.01L437.55 267.86L438.04 267.79L438.53 267.81L439.01 267.94L439.50 268.16L440.00 268.50L440.51 269.02L441.03 269.76L441.56 270.66L442.08 271.66L442.60 272.69L443.11 273.70L443.60 274.63L444.07 275.42L444.50 276.00L445.03 276.45L445.44 276.53L445.81 276.43L446.22 276.31L446.76 276.38L447.50 276.80L447.88 277.11L448.31 277.49L448.78 277.94L449.29 278.44L449.83 278.98L450.39 279.55L450.96 280.13L451.54 280.72L452.11 281.30L452.67 281.86L453.21 282.38L453.72 282.86L454.19 283.28L454.62 283.63L455.00 283.90L455.74 284.24L456.28 284.24L456.69 284.02L457.06 283.74L457.47 283.52L458.00 283.50L458.42 283.60L458.86 283.75L459.30 283.92L459.77 284.13L460.26 284.35L460.77 284.60L461.32 284.86L461.89 285.13L462.50 285.40L462.97 285.60L463.49 285.83L464.05 286.08L464.65 286.34L465.26 286.61L465.87 286.88L466.48 287.15L467.08 287.41L467.63 287.66L468.15 287.89L468.61 288.09L468.99 288.26L469.30 288.40" fill="none" stroke="#3d4dff" stroke-width="1.15" stroke-linejoin="round"/>
<path d="M324.00 288.40H330.00" stroke="#2a35b0" stroke-width="1.2" opacity="0.6"/>
<path d="M255.00 345.00L255.30 344.97L255.67 344.92L256.11 344.88L256.60 344.82L257.14 344.76L257.72 344.70L258.32 344.63L258.94 344.56L259.57 344.48L260.20 344.40L260.65 344.34L261.12 344.27L261.59 344.19L262.08 344.11L262.57 344.03L263.08 343.95L263.60 343.86L264.13 343.78L264.67 343.70L265.21 343.62L265.77 343.56L266.34 343.49L266.92 343.44L267.50 343.40L267.97 343.38L268.45 343.37L268.96 343.37L269.47 343.38L270.00 343.40L270.53 343.43L271.07 343.45L271.61 343.48L272.16 343.51L272.70 343.53L273.24 343.55L273.77 343.56L274.29 343.57L274.81 343.56L275.31 343.54L275.79 343.51L276.26 343.47L276.70 343.40L277.34 343.26L277.95 343.09L278.54 342.88L279.11 342.64L279.66 342.39L280.19 342.12L280.70 341.85L281.20 341.58L281.69 341.33L282.17 341.09L282.64 340.88L283.10 340.70L283.66 340.50L284.12 340.33L284.53 340.19L284.92 340.06L285.32 339.95L285.76 339.85L286.28 339.76L286.92 339.68L287.70 339.60L288.07 339.57L288.48 339.55L288.92 339.53L289.38 339.52L289.88 339.51L290.39 339.50L290.92 339.50L291.46 339.50L292.01 339.49L292.58 339.49L293.14 339.49L293.71 339.49L294.28 339.49L294.84 339.49L295.39 339.48L295.92 339.47L296.45 339.45L296.95 339.44L297.43 339.41L297.88 339.38L298.31 339.34L298.70 339.30L299.40 339.20L300.01 339.11L300.55 339.00L301.03 338.89L301.46 338.76L301.88 338.61L302.29 338.45L302.71 338.26L303.16 338.04L303.65 337.79L304.20 337.50L304.67 337.24L305.17 336.93L305.69 336.59L306.23 336.22L306.78 335.82L307.34 335.42L307.90 335.01L308.46 334.60L309.02 334.20L309.57 333.81L310.11 333.45L310.63 333.13L311.13 332.84L311.60 332.60L312.15 332.37L312.65 332.22L313.11 332.13L313.55 332.08L313.97 332.05L314.40 332.04L314.84 332.01L315.32 331.96L315.85 331.87L316.43 331.72L317.10 331.50L317.51 331.34L317.94 331.15L318.41 330.94L318.90 330.70L319.41 330.45L319.94 330.19L320.48 329.91L321.03 329.63L321.59 329.34L322.15 329.04L322.71 328.75L323.27 328.47L323.82 328.19L324.36 327.92L324.89 327.66L325.40 327.42L325.89 327.21L326.36 327.01L326.79 326.84L327.20 326.70L327.88 326.51L328.51 326.40L329.08 326.35L329.62 326.34L330.12 326.37L330.59 326.41L331.03 326.47L331.46 326.52L331.88 326.55L332.29 326.55L332.70 326.50L333.28 326.38L333.76 326.23L334.18 326.06L334.59 325.86L335.05 325.64L335.60 325.38L336.30 325.10L336.71 324.93L337.16 324.72L337.63 324.49L338.13 324.23L338.65 323.97L339.19 323.69L339.74 323.43L340.31 323.17L340.88 322.93L341.45 322.72L342.03 322.54L342.59 322.41L343.15 322.32L343.70 322.30L344.21 322.34L344.73 322.44L345.26 322.59L345.79 322.79L346.33 323.02L346.86 323.28L347.40 323.55L347.94 323.84L348.46 324.12L348.99 324.39L349.50 324.64L350.00 324.87L350.48 325.06L350.95 325.21L351.40 325.30L351.96 325.33L352.45 325.25L352.88 325.10L353.29 324.89L353.68 324.67L354.08 324.44L354.51 324.24L354.99 324.08L355.53 324.01L356.16 324.04L356.90 324.20L357.28 324.32L357.69 324.48L358.12 324.67L358.58 324.88L359.06 325.12L359.55 325.38L360.07 325.66L360.59 325.96L361.13 326.26L361.68 326.58L362.23 326.90L362.79 327.23L363.35 327.56L363.90 327.89L364.46 328.21L365.01 328.52L365.55 328.83L366.08 329.11L366.60 329.39L367.10 329.64L367.58 329.87L368.04 330.08L368.48 330.25L368.90 330.40L369.56 330.60L370.17 330.74L370.72 330.85L371.25 330.91L371.74 330.94L372.21 330.94L372.67 330.92L373.12 330.87L373.58 330.81L374.05 330.73L374.54 330.65L375.05 330.56L375.60 330.48L376.20 330.40L376.65 330.34L377.12 330.27L377.62 330.18L378.13 330.09L378.66 329.98L379.20 329.87L379.75 329.75L380.30 329.62L380.86 329.50L381.42 329.37L381.97 329.24L382.52 329.11L383.06 328.99L383.59 328.86L384.10 328.75L384.59 328.64L385.06 328.54L385.50 328.45L385.92 328.37L386.30 328.30L387.05 328.18L387.67 328.09L388.21 328.03L388.67 327.98L389.10 327.96L389.50 327.95L389.92 327.96L390.38 327.98L390.90 328.00L391.35 328.02L391.80 328.04L392.24 328.07L392.68 328.10L393.13 328.14L393.60 328.20L394.09 328.27L394.61 328.36L395.16 328.48L395.76 328.63L396.40 328.80L396.82 328.94L397.26 329.11L397.72 329.31L398.20 329.53L398.69 329.77L399.20 330.03L399.71 330.29L400.24 330.56L400.77 330.82L401.31 331.08L401.86 331.32L402.40 331.55L402.95 331.75L403.49 331.92L404.03 332.05L404.56 332.15L405.09 332.20L405.60 332.20L406.11 332.13L406.61 331.97L407.10 331.74L407.59 331.46L408.08 331.12L408.57 330.76L409.06 330.36L409.55 329.96L410.04 329.55L410.53 329.15L411.03 328.78L411.53 328.44L412.04 328.15L412.55 327.92L413.07 327.76L413.61 327.67L414.15 327.68L414.70 327.80L415.16 327.98L415.64 328.24L416.13 328.56L416.63 328.95L417.14 329.38L417.66 329.87L418.18 330.40L418.71 330.96L419.24 331.54L419.77 332.15L420.31 332.77L420.84 333.39L421.36 334.01L421.89 334.63L422.40 335.23L422.91 335.80L423.41 336.35L423.89 336.86L424.37 337.33L424.83 337.74L425.27 338.10L425.70 338.40L426.34 338.77L426.95 339.07L427.53 339.30L428.08 339.46L428.61 339.58L429.13 339.64L429.63 339.67L430.12 339.66L430.61 339.63L431.10 339.57L431.59 339.51L432.08 339.43L432.58 339.36L433.10 339.30L433.62 339.21L434.12 339.07L434.60 338.89L435.09 338.67L435.56 338.43L436.04 338.18L436.53 337.92L437.02 337.67L437.52 337.43L438.05 337.21L438.59 337.03L439.16 336.90L439.76 336.82L440.40 336.80L440.83 336.83L441.27 336.88L441.74 336.96L442.22 337.06L442.71 337.17L443.22 337.31L443.74 337.46L444.26 337.62L444.79 337.80L445.33 337.98L445.87 338.16L446.41 338.35L446.95 338.54L447.48 338.72L448.01 338.90L448.53 339.07L449.04 339.23L449.54 339.38L450.03 339.51L450.51 339.63L450.96 339.73L451.40 339.80L452.00 339.87L452.55 339.90L453.06 339.91L453.55 339.88L454.00 339.84L454.45 339.78L454.89 339.72L455.33 339.65L455.78 339.58L456.25 339.51L456.75 339.47L457.29 339.43L457.87 339.43L458.50 339.45L459.20 339.50L459.60 339.54L460.02 339.60L460.46 339.67L460.92 339.74L461.39 339.82L461.88 339.91L462.38 340.01L462.89 340.11L463.41 340.21L463.94 340.32L464.48 340.43L465.02 340.55L465.57 340.66L466.12 340.78L466.67 340.90L467.22 341.01L467.77 341.13L468.32 341.24L468.86 341.34L469.39 341.44L469.92 341.54L470.44 341.63L470.95 341.72L471.45 341.79L471.94 341.86L472.41 341.92L472.86 341.96L473.30 342.00L473.92 342.03L474.50 342.04L475.07 342.02L475.61 341.98L476.13 341.92L476.64 341.85L477.13 341.78L477.62 341.69L478.09 341.60L478.57 341.51L479.04 341.42L479.52 341.34L480.00 341.27L480.49 341.21L481.00 341.16L481.52 341.14L482.06 341.13L482.62 341.15L483.20 341.20L483.66 341.26L484.13 341.34L484.62 341.43L485.12 341.54L485.62 341.67L486.13 341.80L486.66 341.95L487.18 342.11L487.71 342.27L488.25 342.44L488.79 342.61L489.33 342.79L489.87 342.96L490.41 343.13L490.95 343.30L491.49 343.47L492.02 343.62L492.54 343.77L493.07 343.90L493.58 344.03L494.08 344.14L494.58 344.23L495.07 344.31L495.54 344.36L496.00 344.40L496.59 344.41L497.18 344.39L497.75 344.34L498.32 344.26L498.88 344.15L499.44 344.03L499.98 343.89L500.52 343.73L501.05 343.58L501.57 343.41L502.08 343.25L502.58 343.09L503.08 342.94L503.57 342.79L504.05 342.67L504.52 342.56L504.99 342.48L505.45 342.42L505.90 342.40L506.49 342.41L507.05 342.46L507.58 342.53L508.09 342.64L508.58 342.77L509.07 342.91L509.54 343.07L510.01 343.23L510.48 343.40L510.95 343.56L511.44 343.72L511.94 343.87L512.46 343.99L513.00 344.10L513.42 344.18L513.78 344.25L514.09 344.33L514.36 344.41L514.62 344.48L514.87 344.56L515.13 344.63L515.41 344.69L515.74 344.76L516.11 344.81L516.56 344.86L517.09 344.91L517.72 344.94L518.46 344.97L519.32 344.99L520.33 345.00L521.50 345.00L521.82 345.00L522.16 344.99L522.51 344.99L522.88 344.98L523.26 344.98L523.66 344.97L524.07 344.96L524.49 344.95L524.92 344.94L525.37 344.92L525.83 344.91L526.30 344.90L526.78 344.88L527.27 344.86L527.78 344.85L528.29 344.83L528.80 344.81L529.33 344.79L529.87 344.77L530.41 344.75L530.96 344.73L531.52 344.71L532.08 344.69L532.64 344.67L533.22 344.64L533.79 344.62L534.37 344.60L534.96 344.57L535.54 344.55L536.13 344.53L536.72 344.50L537.31 344.48L537.91 344.46L538.50 344.43L539.09 344.41L539.69 344.38L540.28 344.36L540.87 344.34L541.46 344.31L542.04 344.29L542.63 344.27L543.21 344.24L543.78 344.22L544.36 344.20L544.92 344.18L545.48 344.16L546.04 344.14L546.59 344.12L547.13 344.10L547.67 344.08L548.20 344.06L548.71 344.04L549.22 344.03L549.73 344.01L550.22 344.00L550.70 343.98L551.17 343.97L551.63 343.96L552.08 343.95L552.51 343.94L552.93 343.93L553.34 343.92L553.74 343.91L554.12 343.91L554.49 343.90L554.84 343.90L555.18 343.90L555.50 343.90L556.68 343.91L557.72 343.94L558.63 343.99L559.43 344.05L560.13 344.12L560.73 344.20L561.24 344.29L561.68 344.38L562.06 344.48L562.38 344.58L562.66 344.67L562.90 344.76L563.12 344.85L563.34 344.93L563.54 345.00L563.76 345.06L564.00 345.10" fill="none" stroke="#3d4dff" stroke-width="1.15" stroke-linejoin="round"/>
<path d="M212.00 345.00H262.00" stroke="#2a35b0" stroke-width="1.2" opacity="0.6"/>
<path d="M564.00 345.00H600.00" stroke="#2a35b0" stroke-width="1.2" opacity="0.6"/>
<path d="M824.40 146.40L824.71 146.41L825.11 146.45L825.59 146.50L826.13 146.56L826.71 146.62L827.31 146.65L827.92 146.66L828.51 146.64L829.06 146.56L829.57 146.41L830.00 146.20L830.65 145.65L831.19 144.95L831.66 144.10L832.10 143.12L832.53 142.01L833.00 140.80L833.51 139.39L834.03 137.75L834.54 135.99L835.05 134.21L835.54 132.51L836.00 131.00L836.64 128.96L837.24 127.07L837.80 125.45L838.30 124.20L838.83 123.24L839.28 122.89L839.80 122.80L840.28 122.79L840.81 122.90L841.38 123.21L842.00 123.80L842.45 124.37L842.94 125.08L843.45 125.89L843.97 126.80L844.49 127.78L845.00 128.80L845.50 129.93L846.00 131.19L846.50 132.51L847.00 133.85L847.50 135.13L848.00 136.30L848.49 137.38L848.97 138.43L849.45 139.43L849.94 140.36L850.45 141.19L851.00 141.90L851.50 142.41L852.03 142.82L852.58 143.16L853.14 143.45L853.70 143.69L854.26 143.90L854.80 144.10L855.34 144.26L855.88 144.37L856.43 144.44L856.97 144.48L857.50 144.53L858.01 144.60L858.50 144.70L858.93 144.88L859.19 145.11L859.43 145.36L859.80 145.59L860.44 145.78L861.50 145.90L861.84 145.91L862.21 145.92L862.61 145.93L863.05 145.92L863.52 145.92L864.01 145.91L864.52 145.89L865.06 145.88L865.61 145.86L866.17 145.84L866.74 145.81L867.33 145.79L867.91 145.76L868.50 145.74L869.09 145.71L869.68 145.69L870.25 145.67L870.82 145.65L871.38 145.63L871.92 145.61L872.45 145.60L872.95 145.59L873.43 145.59L873.88 145.59L874.30 145.60L874.97 145.62L875.62 145.66L876.26 145.70L876.88 145.76L877.47 145.81L878.04 145.88L878.59 145.95L879.11 146.02L879.59 146.08L880.05 146.15L880.48 146.22L880.86 146.27L881.22 146.32L881.53 146.37L881.80 146.40" fill="none" stroke="#3d4dff" stroke-width="1.15" stroke-linejoin="round"/>
<path d="M881.80 146.40H940.00" stroke="#2a35b0" stroke-width="1.2" opacity="0.6"/>
<path d="M960.00 146.40H1012.00" stroke="#2a35b0" stroke-width="1.2" opacity="0.6"/>
<path d="M771.25 187.50L771.55 187.50L771.92 187.50L772.35 187.51L772.84 187.52L773.36 187.54L773.92 187.55L774.51 187.56L775.12 187.57L775.74 187.57L776.36 187.56L776.97 187.55L777.57 187.53L778.15 187.50L778.69 187.46L779.20 187.40L779.75 187.32L780.27 187.21L780.78 187.09L781.27 186.95L781.75 186.80L782.23 186.64L782.71 186.48L783.19 186.32L783.68 186.16L784.18 186.00L784.70 185.86L785.24 185.72L785.80 185.60L786.28 185.52L786.78 185.44L787.30 185.38L787.83 185.32L788.38 185.27L788.93 185.22L789.49 185.17L790.05 185.12L790.61 185.08L791.16 185.02L791.71 184.96L792.24 184.89L792.76 184.81L793.26 184.72L793.74 184.62L794.20 184.50L794.82 184.30L795.41 184.07L795.96 183.82L796.49 183.55L797.00 183.26L797.50 182.97L797.99 182.67L798.47 181.71L798.97 180.92L799.47 180.48L800.00 180.48L800.49 180.81L800.99 181.27L801.49 181.65L801.99 181.76L802.49 181.48L802.99 180.82L803.49 179.91L803.99 178.95L804.50 178.15L805.00 177.70L805.50 177.65L806.00 177.94L806.50 178.40L807.00 178.83L807.50 179.02L808.00 178.84L808.50 178.27L809.00 177.41L809.50 176.46L810.00 175.63L810.50 175.10L811.00 174.94L811.50 175.13L812.00 175.50L812.50 175.84L813.00 175.94L813.50 175.66L814.00 174.96L814.50 173.94L815.00 172.77L815.50 171.69L816.00 170.90L816.50 170.50L817.00 170.49L817.50 170.74L818.00 171.06L818.50 171.23L819.00 171.05L819.50 170.48L820.00 169.58L820.50 168.52L821.00 167.50L821.50 166.75L822.00 166.38L822.50 166.42L823.00 166.75L823.50 167.19L824.00 167.52L824.50 167.55L825.00 167.20L825.50 166.50L826.00 165.60L826.50 164.72L827.00 164.06L827.50 163.78L828.00 163.91L828.50 164.36L829.00 164.97L829.50 165.50L830.00 165.77L830.50 165.67L831.00 165.21L831.50 164.53L832.00 163.81L832.50 163.29L833.00 163.12L833.50 163.36L834.00 163.95L834.50 164.72L835.00 165.45L835.50 165.95L836.00 166.07L836.50 165.81L837.00 165.30L837.50 164.71L838.00 164.27L838.50 164.15L839.00 164.43L839.50 165.08L840.00 165.93L840.50 166.78L841.00 167.41L841.50 167.67L842.00 167.52L842.50 167.04L843.00 166.41L843.50 165.87L844.00 165.61L844.50 165.72L845.00 166.21L845.50 166.95L846.00 167.73L846.50 168.35L847.00 168.62L847.50 168.51L848.00 168.06L848.50 167.45L849.00 166.87L849.50 166.53L850.00 166.57L850.50 167.00L851.00 167.72L851.50 168.54L852.00 169.23L852.50 169.63L853.00 169.64L853.50 169.32L854.00 168.80L854.50 168.31L855.00 168.07L855.50 168.20L856.00 168.75L856.50 169.63L857.00 170.65L857.50 171.57L858.00 172.22L858.50 172.47L859.00 172.32L859.50 171.91L860.00 171.44L860.50 171.11L861.00 171.10L861.50 171.47L862.00 172.17L862.50 173.04L863.00 173.85L863.50 174.42L864.00 174.61L864.50 174.41L865.00 173.94L865.50 173.39L866.00 172.98L866.49 172.90L866.98 173.21L867.45 173.85L867.93 174.71L868.40 175.59L868.88 176.33L869.36 176.77L869.85 176.82L870.36 176.52L870.88 175.98L871.43 175.46L872.00 175.23L872.45 175.39L872.91 175.87L873.39 176.60L873.88 177.44L874.39 178.17L874.90 178.58L875.42 178.57L875.94 178.18L876.46 177.56L876.99 176.98L877.51 176.66L878.02 176.75L878.53 177.25L879.03 178.01L879.52 178.84L880.00 179.52L880.53 179.93L881.04 179.91L881.55 179.52L882.04 178.94L882.53 178.39L883.02 178.06L883.50 178.07L883.98 178.46L884.47 179.15L884.96 179.99L885.45 180.79L885.96 181.35L886.47 181.53L887.00 181.31L887.47 180.91L887.93 180.49L888.39 180.23L888.84 180.25L889.30 180.61L889.76 181.31L890.23 182.24L890.71 183.25L891.19 184.14L891.69 184.72L892.19 183.73L892.72 183.99L893.26 184.23L893.82 184.43L894.40 184.59L895.00 184.70L895.44 184.75L895.90 184.77L896.38 184.77L896.87 184.76L897.38 184.72L897.91 184.67L898.44 184.60L898.98 184.52L899.53 184.44L900.08 184.34L900.64 184.24L901.19 184.13L901.74 184.03L902.29 183.92L902.83 183.82L903.37 183.72L903.89 183.62L904.40 183.53L904.90 183.46L905.38 183.40L905.84 183.35L906.28 183.31L906.70 183.30L907.34 183.30L907.93 183.32L908.47 183.36L908.98 183.41L909.45 183.48L909.91 183.56L910.35 183.65L910.79 183.75L911.22 183.86L911.67 183.98L912.13 184.10L912.62 184.23L913.14 184.37L913.70 184.50L914.16 184.62L914.63 184.75L915.12 184.90L915.61 185.06L916.12 185.23L916.63 185.40L917.15 185.59L917.68 185.77L918.21 185.95L918.74 186.13L919.28 186.30L919.81 186.46L920.35 186.61L920.89 186.75L921.42 186.87L921.95 186.97L922.48 187.05L923.00 187.10L923.52 187.12L924.05 187.12L924.58 187.09L925.11 187.04L925.65 186.97L926.19 186.88L926.72 186.78L927.26 186.68L927.79 186.57L928.32 186.46L928.85 186.35L929.37 186.24L929.88 186.14L930.39 186.06L930.88 185.99L931.37 185.94L931.84 185.91L932.30 185.90L932.85 185.93L933.36 185.99L933.83 186.08L934.26 186.19L934.68 186.32L935.09 186.46L935.51 186.61L935.93 186.76L936.38 186.91L936.86 187.05L937.38 187.17L937.95 187.27L938.59 187.35L939.30 187.40L939.69 187.41L940.10 187.42L940.54 187.42L941.00 187.41L941.48 187.40L941.98 187.39L942.50 187.37L943.03 187.35L943.57 187.32L944.12 187.29L944.67 187.26L945.24 187.23L945.80 187.19L946.37 187.16L946.94 187.12L947.50 187.08L948.06 187.05L948.61 187.01L949.15 186.98L949.69 186.95L950.21 186.91L950.71 186.89L951.20 186.86L951.66 186.84L952.11 186.82L952.53 186.81L952.93 186.80L953.30 186.80L954.16 186.81L954.95 186.84L955.65 186.89L956.29 186.96L956.86 187.03L957.37 187.10L957.83 187.18L958.24 187.25L958.60 187.31L958.92 187.36L959.20 187.40" fill="none" stroke="#3d4dff" stroke-width="1.15" stroke-linejoin="round"/>
<path d="M1046.00 187.40H1057.00" stroke="#2a35b0" stroke-width="1.2" opacity="0.6"/>
<path d="M758.25 228.70L758.52 228.69L758.82 228.68L759.15 228.67L759.50 228.66L759.88 228.65L760.28 228.64L760.70 228.63L761.15 228.62L761.62 228.61L762.10 228.60L762.61 228.59L763.13 228.58L763.66 228.57L764.21 228.56L764.77 228.55L765.34 228.54L765.93 228.52L766.52 228.51L767.12 228.50L767.72 228.48L768.33 228.47L768.95 228.45L769.56 228.44L770.18 228.42L770.80 228.40L771.42 228.38L772.03 228.36L772.64 228.34L773.25 228.32L773.84 228.30L774.44 228.27L775.02 228.25L775.59 228.22L776.15 228.19L776.70 228.17L777.23 228.14L777.75 228.10L778.25 228.07L778.74 228.04L779.20 228.00L779.65 227.96L780.07 227.93L780.47 227.89L780.85 227.84L781.20 227.80L782.14 227.66L782.95 227.51L783.65 227.34L784.24 227.17L784.75 226.99L785.19 226.79L785.58 226.59L785.93 226.37L786.26 226.15L786.59 225.93L786.92 225.69L787.29 225.45L787.69 225.21L788.16 224.95L788.70 224.70L789.15 224.51L789.61 224.31L790.08 224.11L790.57 223.90L791.06 223.70L791.57 223.48L792.08 223.27L792.60 223.05L793.12 222.83L793.65 222.60L794.18 222.37L794.70 222.13L795.23 221.90L795.75 221.65L796.26 221.40L796.77 221.15L797.27 220.90L797.76 220.64L798.24 220.37L798.70 220.10L799.27 219.75L799.84 219.40L800.41 219.03L800.97 218.65L801.53 218.27L802.08 217.88L802.63 217.48L803.16 217.08L803.69 216.67L804.20 216.26L804.71 215.85L805.20 215.44L805.67 215.02L806.13 214.61L806.58 214.21L807.00 213.80L807.64 213.13L808.24 212.41L808.80 211.66L809.32 210.91L809.81 210.16L810.28 209.44L810.73 208.77L811.16 208.16L811.58 207.63L812.00 207.20L812.63 206.70L813.16 206.43L813.65 206.31L814.14 206.29L814.67 206.31L815.30 206.30L815.74 206.28L816.22 206.28L816.73 206.30L817.25 206.33L817.79 206.37L818.33 206.42L818.86 206.48L819.38 206.56L819.86 206.65L820.30 206.75L820.94 207.03L821.49 207.44L822.00 207.88L822.51 208.25L823.06 208.46L823.70 208.40L824.14 208.18L824.62 207.83L825.14 207.36L825.67 206.83L826.21 206.26L826.75 205.68L827.27 205.14L827.78 204.65L828.26 204.26L828.70 204.00L829.29 203.75L829.74 203.62L830.14 203.63L830.59 203.81L831.18 204.16L832.00 204.70L832.39 204.98L832.82 205.32L833.29 205.72L833.80 206.17L834.34 206.66L834.89 207.17L835.46 207.70L836.04 208.24L836.63 208.78L837.21 209.31L837.78 209.82L838.34 210.30L838.88 210.75L839.39 211.14L839.86 211.48L840.30 211.75L840.94 212.07L841.54 212.28L842.09 212.41L842.61 212.47L843.11 212.47L843.57 212.43L844.02 212.37L844.46 212.30L844.88 212.24L845.30 212.20L845.93 212.08L846.46 211.83L846.94 211.55L847.43 211.32L848.00 211.21L848.70 211.30L849.09 211.45L849.50 211.67L849.91 211.95L850.34 212.27L850.79 212.62L851.26 212.99L851.75 213.37L852.27 213.74L852.82 214.09L853.41 214.41L854.03 214.68L854.70 214.90L855.10 214.99L855.52 215.06L855.96 215.11L856.42 215.15L856.89 215.17L857.37 215.18L857.87 215.17L858.37 215.17L858.89 215.16L859.41 215.14L859.93 215.13L860.46 215.13L861.00 215.13L861.53 215.14L862.07 215.16L862.60 215.20L863.13 215.25L863.66 215.33L864.18 215.42L864.70 215.55L865.20 215.70L865.71 215.88L866.22 216.10L866.75 216.35L867.29 216.62L867.83 216.92L868.37 217.24L868.92 217.57L869.47 217.91L870.01 218.26L870.55 218.62L871.09 218.98L871.61 219.34L872.13 219.69L872.64 220.03L873.13 220.36L873.61 220.68L874.07 220.98L874.51 221.25L874.93 221.50L875.33 221.72L875.70 221.90L876.44 222.24L877.01 222.50L877.45 222.69L877.83 222.81L878.17 222.87L878.55 222.88L878.99 222.85L879.56 222.79L880.30 222.70L880.68 222.65L881.10 222.58L881.55 222.49L882.03 222.39L882.54 222.27L883.07 222.15L883.62 222.01L884.18 221.87L884.75 221.72L885.33 221.56L885.91 221.41L886.48 221.26L887.05 221.10L887.60 220.96L888.14 220.81L888.66 220.68L889.15 220.56L889.62 220.44L890.05 220.35L890.44 220.26L890.80 220.20L891.60 220.04L892.07 219.91L892.36 219.82L892.59 219.81L892.91 219.89L893.43 220.07L894.30 220.40L894.65 220.54L895.02 220.70L895.42 220.88L895.85 221.09L896.30 221.31L896.77 221.55L897.26 221.81L897.76 222.08L898.28 222.35L898.82 222.63L899.36 222.92L899.92 223.21L900.47 223.49L901.04 223.78L901.61 224.06L902.17 224.33L902.74 224.59L903.30 224.84L903.86 225.07L904.41 225.28L904.95 225.48L905.48 225.65L906.00 225.80L906.51 225.93L907.02 226.04L907.53 226.14L908.05 226.23L908.57 226.31L909.08 226.38L909.60 226.44L910.12 226.49L910.63 226.53L911.15 226.56L911.67 226.58L912.18 226.60L912.70 226.62L913.21 226.62L913.72 226.63L914.23 226.63L914.73 226.63L915.24 226.62L915.74 226.62L916.23 226.61L916.73 226.61L917.22 226.60L917.70 226.60L918.23 226.59L918.77 226.57L919.30 226.55L919.84 226.51L920.38 226.47L920.92 226.42L921.46 226.37L922.00 226.31L922.53 226.25L923.06 226.19L923.58 226.13L924.09 226.06L924.60 226.00L925.09 225.94L925.58 225.89L926.05 225.84L926.51 225.80L926.96 225.76L927.39 225.73L927.80 225.71L928.20 225.70L928.89 225.70L929.49 225.73L930.03 225.78L930.51 225.85L930.96 225.92L931.39 226.01L931.83 226.09L932.29 226.18L932.80 226.26L933.36 226.34L934.00 226.40L934.43 226.43L934.90 226.46L935.39 226.48L935.90 226.50L936.42 226.52L936.97 226.54L937.52 226.56L938.08 226.58L938.64 226.59L939.21 226.61L939.77 226.63L940.32 226.66L940.87 226.69L941.39 226.72L941.91 226.76L942.40 226.80L942.86 226.85L943.30 226.90L943.99 227.01L944.66 227.15L945.31 227.30L945.94 227.47L946.54 227.64L947.11 227.82L947.63 227.99L948.11 228.15L948.53 228.29L948.90 228.41L949.20 228.50" fill="none" stroke="#3d4dff" stroke-width="1.15" stroke-linejoin="round"/>
<path d="M949.00 228.50H993.00" stroke="#2a35b0" stroke-width="1.2" opacity="0.6"/>
<path d="M1007.00 228.50H1062.00" stroke="#2a35b0" stroke-width="1.2" opacity="0.6"/>
<path d="M1122.00 228.50H1137.00" stroke="#2a35b0" stroke-width="1.2" opacity="0.6"/>
<path d="M772.00 269.50L772.29 269.50L772.67 269.50L773.11 269.51L773.61 269.52L774.15 269.52L774.72 269.50L775.31 269.46L775.91 269.40L776.50 269.30L776.95 269.19L777.43 269.04L777.93 268.85L778.44 268.65L778.97 268.43L779.50 268.21L780.03 268.00L780.56 267.81L781.07 267.64L781.57 267.51L782.05 267.43L782.50 267.40L783.06 267.48L783.57 267.68L784.06 267.96L784.52 268.30L784.98 268.64L785.44 268.96L785.93 269.22L786.44 269.38L787.00 269.40L787.46 269.31L787.94 269.13L788.46 268.89L788.99 268.60L789.53 268.27L790.07 267.92L790.61 267.57L791.14 267.24L791.65 266.94L792.13 266.69L792.59 266.50L793.00 266.40L793.70 266.47L794.27 266.82L794.77 267.29L795.25 267.76L795.78 268.07L796.40 268.10L796.88 267.91L797.40 267.58L797.94 267.14L798.50 266.64L799.07 266.11L799.64 265.59L800.21 265.10L800.76 264.70L801.30 264.40L801.82 264.22L802.33 264.13L802.83 264.10L803.33 264.12L803.82 264.15L804.31 264.17L804.81 264.17L805.30 264.12L805.80 264.00L806.30 263.79L806.82 263.51L807.33 263.17L807.84 262.81L808.35 262.45L808.86 262.10L809.35 261.80L809.84 261.56L810.30 261.40L810.88 261.35L811.44 261.42L811.98 261.58L812.51 261.78L813.02 261.96L813.52 262.09L814.00 262.10L814.52 261.97L815.00 261.75L815.45 261.47L815.91 261.16L816.42 260.86L817.00 260.60L817.43 260.48L817.89 260.39L818.37 260.32L818.88 260.26L819.39 260.19L819.91 260.08L820.44 259.93L820.97 259.71L821.50 259.40L822.03 258.94L822.56 258.30L823.10 257.56L823.65 256.76L824.20 255.98L824.75 255.28L825.30 254.71L825.85 254.35L826.40 254.25L826.95 254.51L827.51 255.12L828.07 255.96L828.63 256.95L829.18 257.97L829.73 258.93L830.27 259.72L830.80 260.25L831.30 260.40L831.85 260.11L832.38 259.46L832.90 258.53L833.40 257.43L833.89 256.24L834.37 255.06L834.84 253.98L835.30 253.10L835.89 252.08L836.45 251.06L836.99 250.12L837.52 249.31L838.05 248.72L838.60 248.40L839.16 248.48L839.71 248.92L840.27 249.58L840.84 250.29L841.41 250.90L842.00 251.25L842.49 251.31L842.96 251.23L843.43 251.06L843.91 250.85L844.45 250.66L845.05 250.52L845.75 250.50L846.18 250.56L846.65 250.69L847.16 250.86L847.70 251.07L848.26 251.29L848.84 251.51L849.41 251.73L849.99 251.92L850.55 252.07L851.09 252.17L851.60 252.20L852.07 252.15L852.50 252.00L853.21 251.40L853.83 250.43L854.40 249.25L854.91 248.00L855.38 246.82L855.82 245.85L856.25 245.25L856.94 244.91L857.52 245.13L858.03 245.78L858.50 246.75L859.03 248.92L859.47 251.73L860.00 253.90L860.46 254.87L860.94 255.52L861.51 255.74L862.25 255.40L862.65 254.97L863.10 254.32L863.58 253.51L864.10 252.59L864.63 251.64L865.17 250.70L865.71 249.84L866.24 249.12L866.75 248.60L867.25 248.23L867.75 247.93L868.25 247.70L868.75 247.55L869.25 247.49L869.75 247.52L870.25 247.65L870.75 247.89L871.25 248.25L871.75 248.79L872.24 249.53L872.72 250.42L873.21 251.42L873.70 252.47L874.19 253.51L874.70 254.50L875.22 255.38L875.75 256.10L876.24 256.61L876.75 257.04L877.27 257.40L877.79 257.71L878.33 257.98L878.86 258.25L879.40 258.51L879.93 258.80L880.47 259.12L881.00 259.50L881.54 259.95L882.09 260.46L882.66 261.01L883.23 261.59L883.79 262.16L884.34 262.72L884.88 263.24L885.39 263.71L885.86 264.10L886.30 264.40L886.92 264.66L887.41 264.69L887.85 264.59L888.27 264.44L888.74 264.35L889.30 264.40L889.73 264.52L890.17 264.66L890.63 264.83L891.11 265.02L891.61 265.24L892.13 265.47L892.67 265.72L893.23 265.98L893.80 266.25L894.27 266.48L894.78 266.74L895.34 267.02L895.91 267.32L896.50 267.63L897.08 267.94L897.65 268.24L898.19 268.54L898.69 268.80L899.13 269.04L899.51 269.24L899.80 269.40" fill="none" stroke="#3d4dff" stroke-width="1.15" stroke-linejoin="round"/>
<path d="M760.00 269.50H765.00" stroke="#2a35b0" stroke-width="1.2" opacity="0.6"/>
<path d="M776.00 331.00L776.28 330.95L776.61 330.88L776.99 330.80L777.41 330.71L777.88 330.61L778.37 330.50L778.89 330.39L779.44 330.27L780.00 330.16L780.57 330.04L781.16 329.93L781.74 329.83L782.32 329.74L782.89 329.66L783.45 329.59L783.99 329.54L784.51 329.51L785.00 329.50L785.52 329.53L786.03 329.60L786.53 329.71L787.02 329.85L787.51 330.02L787.99 330.19L788.46 330.38L788.94 330.56L789.42 330.74L789.90 330.89L790.39 331.02L790.88 331.12L791.39 331.17L791.91 331.17L792.45 331.12L793.00 331.00L793.46 330.85L793.93 330.64L794.42 330.39L794.92 330.09L795.43 329.76L795.95 329.40L796.47 329.02L797.00 328.62L797.53 328.20L798.06 327.78L798.59 327.36L799.12 326.94L799.64 326.54L800.16 326.15L800.66 325.79L801.16 325.45L801.64 325.15L802.11 324.88L802.57 324.67L803.00 324.50L803.58 324.37L804.12 324.35L804.63 324.42L805.10 324.56L805.56 324.75L806.00 324.98L806.44 325.22L806.88 325.45L807.33 325.65L807.80 325.80L808.29 325.88L808.82 325.87L809.38 325.75L810.00 325.50L810.42 325.26L810.85 324.96L811.30 324.60L811.76 324.20L812.23 323.74L812.71 323.26L813.20 322.73L813.71 322.19L814.21 321.63L814.73 321.05L815.25 320.47L815.77 319.89L816.30 319.31L816.83 318.75L817.36 318.21L817.89 317.70L818.42 317.21L818.95 316.77L819.47 316.37L819.98 316.02L820.50 315.73L821.00 315.50L821.50 315.34L822.00 315.25L822.50 315.21L823.00 315.23L823.50 315.29L824.00 315.39L824.50 315.52L825.00 315.67L825.50 315.85L826.00 316.04L826.50 316.24L827.00 316.43L827.50 316.62L828.00 316.80L828.50 316.96L829.00 317.09L829.50 317.20L830.00 317.26L830.50 317.28L831.00 317.24L831.50 317.15L832.00 317.00L832.50 316.78L833.02 316.49L833.53 316.14L834.05 315.74L834.58 315.30L835.11 314.82L835.64 314.30L836.17 313.76L836.70 313.20L837.23 312.63L837.75 312.05L838.27 311.47L838.79 310.90L839.29 310.35L839.80 309.81L840.29 309.31L840.77 308.83L841.24 308.40L841.70 308.01L842.15 307.68L842.58 307.41L843.00 307.20L843.62 307.00L844.19 306.94L844.73 306.99L845.23 307.13L845.71 307.35L846.17 307.62L846.62 307.93L847.07 308.25L847.52 308.57L847.97 308.88L848.44 309.14L848.93 309.34L849.45 309.47L850.00 309.50L850.45 309.46L850.92 309.38L851.40 309.27L851.88 309.13L852.38 308.97L852.89 308.78L853.40 308.58L853.92 308.37L854.44 308.14L854.96 307.92L855.48 307.69L856.00 307.47L856.52 307.26L857.03 307.07L857.53 306.89L858.03 306.73L858.52 306.60L859.00 306.50L859.52 306.40L860.01 306.31L860.49 306.21L860.95 306.12L861.41 306.04L861.85 305.97L862.30 305.92L862.75 305.88L863.21 305.85L863.68 305.86L864.16 305.88L864.67 305.94L865.20 306.02L865.77 306.14L866.36 306.30L867.00 306.50L867.41 306.65L867.85 306.84L868.30 307.06L868.76 307.31L869.25 307.59L869.74 307.88L870.25 308.20L870.76 308.53L871.29 308.88L871.82 309.23L872.35 309.59L872.89 309.95L873.44 310.31L873.98 310.67L874.52 311.02L875.06 311.36L875.60 311.69L876.13 312.00L876.66 312.29L877.17 312.56L877.68 312.80L878.17 313.01L878.65 313.19L879.12 313.34L879.57 313.44L880.00 313.50L880.61 313.51L881.21 313.45L881.80 313.31L882.38 313.11L882.96 312.85L883.52 312.55L884.07 312.21L884.60 311.84L885.12 311.46L885.63 311.06L886.12 310.66L886.59 310.26L887.05 309.88L887.48 309.53L887.89 309.20L888.29 308.92L888.65 308.68L889.00 308.50L889.81 308.14L890.33 307.92L890.69 307.83L891.00 307.86L891.40 307.99L892.00 308.20L892.39 308.36L892.80 308.56L893.24 308.82L893.70 309.11L894.19 309.42L894.69 309.75L895.21 310.08L895.74 310.41L896.29 310.73L896.85 311.02L897.42 311.28L898.00 311.50L898.44 311.63L898.90 311.74L899.36 311.84L899.84 311.92L900.32 311.98L900.81 312.04L901.31 312.09L901.81 312.14L902.32 312.19L902.84 312.25L903.36 312.31L903.88 312.37L904.41 312.45L904.94 312.55L905.47 312.66L906.00 312.80L906.48 312.94L906.97 313.10L907.48 313.28L907.99 313.47L908.51 313.67L909.04 313.88L909.57 314.10L910.10 314.32L910.62 314.54L911.15 314.77L911.67 314.98L912.19 315.20L912.69 315.40L913.18 315.59L913.66 315.77L914.13 315.93L914.57 316.08L915.00 316.20L915.59 316.35L916.10 316.48L916.57 316.58L917.00 316.66L917.41 316.72L917.81 316.76L918.23 316.79L918.67 316.81L919.15 316.81L919.69 316.81L920.30 316.81L921.00 316.80L921.39 316.79L921.80 316.76L922.23 316.72L922.68 316.67L923.14 316.61L923.62 316.54L924.12 316.46L924.63 316.39L925.15 316.30L925.68 316.22L926.21 316.14L926.75 316.06L927.29 315.99L927.84 315.92L928.38 315.86L928.93 315.81L929.47 315.78L930.00 315.75L930.53 315.75L931.05 315.76L931.55 315.78L932.05 315.83L932.53 315.90L933.00 316.00L933.55 316.16L934.09 316.37L934.62 316.62L935.14 316.92L935.66 317.24L936.18 317.60L936.69 317.98L937.19 318.37L937.69 318.77L938.19 319.17L938.68 319.57L939.17 319.96L939.65 320.33L940.14 320.68L940.62 321.01L941.10 321.30L941.57 321.55L942.05 321.75L942.52 321.91L943.00 322.00L943.53 322.04L944.07 322.01L944.60 321.92L945.14 321.78L945.68 321.60L946.22 321.39L946.76 321.14L947.29 320.88L947.81 320.59L948.33 320.30L948.84 320.01L949.33 319.72L949.82 319.45L950.29 319.19L950.74 318.96L951.18 318.77L951.60 318.61L952.00 318.50L952.66 318.37L953.24 318.28L953.76 318.23L954.24 318.22L954.69 318.25L955.12 318.32L955.55 318.43L956.00 318.58L956.48 318.77L957.00 319.00L957.46 319.24L957.91 319.54L958.36 319.88L958.81 320.26L959.28 320.67L959.75 321.09L960.24 321.53L960.74 321.96L961.27 322.39L961.81 322.79L962.39 323.16L963.00 323.50L963.42 323.71L963.85 323.92L964.29 324.13L964.74 324.34L965.19 324.55L965.66 324.76L966.13 324.96L966.62 325.16L967.11 325.34L967.62 325.52L968.13 325.69L968.65 325.85L969.18 326.00L969.73 326.13L970.28 326.25L970.84 326.35L971.42 326.43L972.00 326.50L972.45 326.53L972.91 326.55L973.39 326.55L973.88 326.54L974.38 326.51L974.89 326.47L975.41 326.43L975.93 326.37L976.46 326.31L976.99 326.24L977.53 326.17L978.07 326.09L978.61 326.02L979.15 325.94L979.68 325.87L980.21 325.80L980.74 325.73L981.26 325.67L981.78 325.61L982.29 325.57L982.78 325.53L983.27 325.51L983.74 325.50L984.20 325.50L984.75 325.52L985.27 325.55L985.75 325.59L986.21 325.64L986.65 325.70L987.07 325.77L987.48 325.85L987.89 325.93L988.30 326.02L988.72 326.11L989.15 326.20L989.60 326.30L990.08 326.40L990.58 326.51L991.11 326.61L991.69 326.71L992.30 326.81L992.97 326.91L993.70 327.00L994.09 327.05L994.49 327.09L994.92 327.14L995.36 327.19L995.82 327.24L996.29 327.29L996.78 327.34L997.27 327.40L997.78 327.45L998.30 327.50L998.83 327.56L999.37 327.61L999.92 327.67L1000.47 327.72L1001.03 327.78L1001.59 327.83L1002.16 327.89L1002.73 327.94L1003.29 328.00L1003.86 328.06L1004.43 328.11L1005.00 328.17L1005.56 328.22L1006.12 328.28L1006.67 328.33L1007.22 328.39L1007.75 328.44L1008.29 328.50L1008.81 328.55L1009.32 328.60L1009.82 328.66L1010.30 328.71L1010.78 328.76L1011.24 328.81L1011.68 328.86L1012.10 328.91L1012.51 328.95L1012.90 329.00L1013.63 329.10L1014.30 329.20L1014.91 329.31L1015.48 329.43L1016.02 329.55L1016.51 329.67L1016.98 329.79L1017.42 329.90L1017.85 330.01L1018.27 330.12L1018.68 330.22L1019.10 330.31L1019.52 330.38L1019.95 330.45L1020.40 330.49L1020.87 330.53L1021.38 330.54L1021.92 330.53L1022.50 330.50L1022.95 330.46L1023.42 330.40L1023.90 330.32L1024.39 330.22L1024.90 330.11L1025.41 329.98L1025.94 329.85L1026.47 329.70L1027.01 329.55L1027.55 329.39L1028.10 329.22L1028.65 329.06L1029.20 328.89L1029.75 328.72L1030.30 328.55L1030.85 328.39L1031.39 328.24L1031.93 328.09L1032.46 327.95L1032.99 327.83L1033.50 327.71L1034.01 327.61L1034.50 327.53L1034.98 327.47L1035.45 327.42L1035.90 327.40L1036.48 327.40L1037.01 327.43L1037.51 327.50L1037.97 327.59L1038.41 327.70L1038.82 327.83L1039.23 327.97L1039.63 328.13L1040.02 328.31L1040.43 328.48L1040.85 328.67L1041.29 328.85L1041.76 329.03L1042.26 329.21L1042.80 329.37L1043.39 329.53L1044.03 329.67L1044.73 329.80L1045.50 329.90L1045.88 329.94L1046.28 329.98L1046.70 330.02L1047.14 330.06L1047.60 330.09L1048.09 330.13L1048.58 330.17L1049.10 330.20L1049.62 330.23L1050.17 330.26L1050.72 330.29L1051.28 330.32L1051.85 330.35L1052.43 330.38L1053.02 330.41L1053.61 330.44L1054.21 330.46L1054.80 330.49L1055.40 330.51L1056.00 330.53L1056.60 330.56L1057.19 330.58L1057.79 330.60L1058.37 330.62L1058.95 330.64L1059.52 330.66L1060.08 330.68L1060.63 330.70L1061.17 330.71L1061.70 330.73L1062.21 330.75L1062.71 330.76L1063.18 330.78L1063.64 330.79L1064.08 330.81L1064.50 330.82L1064.90 330.84L1065.27 330.85L1065.62 330.86L1065.94 330.88L1066.24 330.89L1066.50 330.90" fill="none" stroke="#3d4dff" stroke-width="1.15" stroke-linejoin="round"/>
<path d="M744.50 331.00H776.00" stroke="#2a35b0" stroke-width="1.2" opacity="0.6"/>
<path d="M1066.00 331.00H1100.00" stroke="#2a35b0" stroke-width="1.2" opacity="0.6"/>
<path d="M1120.00 331.00H1140.00" stroke="#2a35b0" stroke-width="1.2" opacity="0.6"/>
<circle cx="407.00" cy="65.90" r="3" fill="#ff0000"/>
<circle cx="408.50" cy="65.90" r="3" fill="#ff0000"/>
<circle cx="414.75" cy="65.90" r="3" fill="#ff0000"/>
<circle cx="420.50" cy="65.90" r="3" fill="#ff0000"/>
<circle cx="433.75" cy="65.90" r="3" fill="#ff0000"/>
<circle cx="500.50" cy="65.90" r="3" fill="#ff0000"/>
<circle cx="415.00" cy="137.60" r="2.6" fill="#ff0000"/>
<circle cx="834.50" cy="68.80" r="3" fill="#ff0000"/>
<circle cx="839.50" cy="68.80" r="3" fill="#ff0000"/>
<circle cx="847.50" cy="68.80" r="3" fill="#ff0000"/>
<circle cx="856.25" cy="68.80" r="3" fill="#ff0000"/>
<circle cx="865.50" cy="68.80" r="3" fill="#ff0000"/>
<circle cx="847.50" cy="105.70" r="2.6" fill="#ff0000"/>
<circle cx="500.50" cy="99.70" r="2.6" fill="#ff0000"/>
<circle cx="406.90" cy="175.20" r="2.6" fill="#ff0000"/>
<circle cx="409.30" cy="212.90" r="2.6" fill="#ff0000"/>
<circle cx="420.30" cy="250.50" r="2.6" fill="#ff0000"/>
<circle cx="433.60" cy="288.40" r="2.6" fill="#ff0000"/>
<circle cx="834.90" cy="146.50" r="2.6" fill="#ff0000"/>
<circle cx="839.20" cy="187.40" r="2.6" fill="#ff0000"/>
<circle cx="856.60" cy="228.50" r="2.6" fill="#ff0000"/>
<circle cx="865.50" cy="269.60" r="2.6" fill="#ff0000"/>
<path d="M452.30 345.00V483.80" stroke="#ff0000" stroke-width="1.0"/>
<path d="M452.30 341.40l3.6 3.6l-3.6 3.6l-3.6 -3.6z" fill="#ff0000"/>
<path d="M448.55 368.20h7.5l-3.75 6.4z" fill="#ff0000"/>
<path d="M448.55 394.70h7.5l-3.75 6.4z" fill="#ff0000"/>
<path d="M448.55 421.70h7.5l-3.75 6.4z" fill="#ff0000"/>
<path d="M448.55 448.70h7.5l-3.75 6.4z" fill="#ff0000"/>
<path d="M448.55 483.70h7.5l-3.75 6.4z" fill="#ff0000"/>
<text x="450.50" y="368.80" font-size="12.7" text-anchor="end" fill="#ff0000" font-weight="normal" >0.778</text>
<text x="450.50" y="394.40" font-size="12.7" text-anchor="end" fill="#ff0000" font-weight="normal" >0.661</text>
<text x="449.50" y="420.00" font-size="12.7" text-anchor="end" fill="#ff0000" font-weight="normal" >0.636</text>
<text x="450.50" y="448.00" font-size="12.7" text-anchor="end" fill="#ff0000" font-weight="normal" >0.416</text>
<text x="449.50" y="482.50" font-size="12.7" text-anchor="end" fill="#ff0000" font-weight="normal" >0.167</text>
<text x="456.30" y="333.00" font-size="12.7" text-anchor="middle" fill="#ff0000" font-weight="normal" >350</text>
<path d="M931.90 331.30V478.00" stroke="#ff0000" stroke-width="1.0"/>
<path d="M931.90 327.70l3.6 3.6l-3.6 3.6l-3.6 -3.6z" fill="#ff0000"/>
<path d="M928.15 356.80h7.5l-3.75 6.4z" fill="#ff0000"/>
<path d="M928.15 385.70h7.5l-3.75 6.4z" fill="#ff0000"/>
<path d="M928.15 414.90h7.5l-3.75 6.4z" fill="#ff0000"/>
<path d="M928.15 443.80h7.5l-3.75 6.4z" fill="#ff0000"/>
<path d="M928.15 477.90h7.5l-3.75 6.4z" fill="#ff0000"/>
<text x="929.00" y="355.80" font-size="12.7" text-anchor="end" fill="#ff0000" font-weight="normal" >0.559</text>
<text x="929.00" y="385.50" font-size="12.7" text-anchor="end" fill="#ff0000" font-weight="normal" >0.445</text>
<text x="929.00" y="414.70" font-size="12.7" text-anchor="end" fill="#ff0000" font-weight="normal" >0.421</text>
<text x="929.00" y="443.60" font-size="12.7" text-anchor="end" fill="#ff0000" font-weight="normal" >0.251</text>
<text x="930.50" y="477.10" font-size="12.7" text-anchor="end" fill="#ff0000" font-weight="normal" >0.0957</text>
<text x="935.20" y="318.80" font-size="12.7" text-anchor="middle" fill="#ff0000" font-weight="normal" >117</text>
</svg></body></html>
